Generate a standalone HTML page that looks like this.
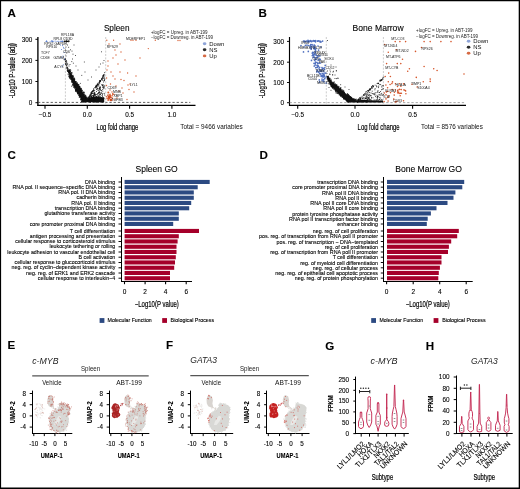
<!DOCTYPE html>
<html><head><meta charset="utf-8"><style>
html,body{margin:0;padding:0;background:#fff;}
body{width:520px;height:489px;overflow:hidden;position:relative;}
svg{position:absolute;left:0;top:0;will-change:transform;filter:blur(0.3px);}
text{font-family:"Liberation Sans",sans-serif;stroke:#000;stroke-width:0.1px;}
.n{stroke:none;}
.m{stroke:#000;stroke-width:0.2px;}
</style></head><body>
<svg width="520" height="489" viewBox="0 0 520 489">
<rect x="0" y="0" width="520" height="489" fill="#fff"/>
<text x="7.4" y="17.2" font-size="11.6" font-weight="bold">A</text>
<text x="258.4" y="17.2" font-size="11.6" font-weight="bold">B</text>
<text x="7.4" y="158.6" font-size="11.6" font-weight="bold">C</text>
<text x="259.5" y="158.6" font-size="11.6" font-weight="bold">D</text>
<text x="7.6" y="349.2" font-size="11.6" font-weight="bold">E</text>
<text x="166" y="349.2" font-size="11.6" font-weight="bold">F</text>
<text x="325.2" y="350.3" font-size="11.6" font-weight="bold">G</text>
<text x="425.8" y="350.2" font-size="11.6" font-weight="bold">H</text>
<line x1="37.9" y1="37" x2="37.9" y2="106" stroke="#000" stroke-width="1.35"/>
<line x1="37.4" y1="105.4" x2="195.5" y2="105.4" stroke="#000" stroke-width="1.15"/>
<line x1="35.4" y1="39.3" x2="38" y2="39.3" stroke="#000" stroke-width="0.95"/>
<text x="32.4" y="41.6" font-size="6.4" text-anchor="end">300</text>
<line x1="35.4" y1="60.4" x2="38" y2="60.4" stroke="#000" stroke-width="0.95"/>
<text x="32.4" y="62.7" font-size="6.4" text-anchor="end">200</text>
<line x1="35.4" y1="81.5" x2="38" y2="81.5" stroke="#000" stroke-width="0.95"/>
<text x="32.4" y="83.8" font-size="6.4" text-anchor="end">100</text>
<line x1="35.4" y1="102.7" x2="38" y2="102.7" stroke="#000" stroke-width="0.95"/>
<text x="32.4" y="105" font-size="6.4" text-anchor="end">0</text>
<line x1="45" y1="105.4" x2="45" y2="108.8" stroke="#000" stroke-width="1.1"/>
<text x="45" y="117.3" font-size="6.4" text-anchor="middle">−0.5</text>
<line x1="87.3" y1="105.4" x2="87.3" y2="108.8" stroke="#000" stroke-width="1.1"/>
<text x="87.3" y="117.3" font-size="6.4" text-anchor="middle">0.0</text>
<line x1="129.6" y1="105.4" x2="129.6" y2="108.8" stroke="#000" stroke-width="1.1"/>
<text x="129.6" y="117.3" font-size="6.4" text-anchor="middle">0.5</text>
<line x1="171.9" y1="105.4" x2="171.9" y2="108.8" stroke="#000" stroke-width="1.1"/>
<text x="171.9" y="117.3" font-size="6.4" text-anchor="middle">1.0</text>
<text x="103.9" y="31.2" font-size="8.4" textLength="25.6" lengthAdjust="spacingAndGlyphs">Spleen</text>
<text x="96.4" y="129.7" font-size="8.8" class="m" textLength="42" lengthAdjust="spacingAndGlyphs">Log fold change</text>
<text x="180.2" y="128.7" font-size="6.8" class="n" fill="#111" textLength="62.5" lengthAdjust="spacingAndGlyphs">Total = 9466 variables</text>
<text x="14.8" y="98.3" font-size="8.6" class="m" textLength="55.2" lengthAdjust="spacingAndGlyphs" transform="rotate(-90 14.8 98.3)">-Log10 P-value (adj)</text>
<text x="150.9" y="33.5" font-size="4.5" class="n" fill="#222" textLength="56.5" lengthAdjust="spacingAndGlyphs">+logFC = Upreg. in ABT-199</text>
<text x="150.9" y="39" font-size="4.5" class="n" fill="#222" textLength="62" lengthAdjust="spacingAndGlyphs">−logFC = Downreg. in ABT-199</text>
<ellipse cx="204.6" cy="43.8" rx="1.8" ry="1.45" fill="#8ea4d8"/>
<text x="209.2" y="45.8" font-size="5.9" class="n" fill="#111">Down</text>
<ellipse cx="204.6" cy="49.8" rx="1.8" ry="1.45" fill="#2a2a2a"/>
<text x="209.2" y="51.8" font-size="5.9" class="n" fill="#111">NS</text>
<ellipse cx="204.6" cy="55.9" rx="1.8" ry="1.45" fill="#d66a44"/>
<text x="209.2" y="57.9" font-size="5.9" class="n" fill="#111">Up</text>
<line x1="289.5" y1="37" x2="289.5" y2="106" stroke="#000" stroke-width="1.15"/>
<line x1="289" y1="105.4" x2="466" y2="105.4" stroke="#000" stroke-width="1.15"/>
<line x1="287" y1="41.4" x2="289.6" y2="41.4" stroke="#000" stroke-width="0.95"/>
<text x="284" y="43.7" font-size="6.4" text-anchor="end">300</text>
<line x1="287" y1="62.2" x2="289.6" y2="62.2" stroke="#000" stroke-width="0.95"/>
<text x="284" y="64.5" font-size="6.4" text-anchor="end">200</text>
<line x1="287" y1="82.5" x2="289.6" y2="82.5" stroke="#000" stroke-width="0.95"/>
<text x="284" y="84.8" font-size="6.4" text-anchor="end">100</text>
<line x1="287" y1="102.7" x2="289.6" y2="102.7" stroke="#000" stroke-width="0.95"/>
<text x="284" y="105" font-size="6.4" text-anchor="end">0</text>
<line x1="297.7" y1="105.4" x2="297.7" y2="108.8" stroke="#000" stroke-width="1.1"/>
<text x="297.7" y="117.3" font-size="6.4" text-anchor="middle">−0.5</text>
<line x1="355" y1="105.4" x2="355" y2="108.8" stroke="#000" stroke-width="1.1"/>
<text x="355" y="117.3" font-size="6.4" text-anchor="middle">0.0</text>
<line x1="412.6" y1="105.4" x2="412.6" y2="108.8" stroke="#000" stroke-width="1.1"/>
<text x="412.6" y="117.3" font-size="6.4" text-anchor="middle">0.5</text>
<text x="352.6" y="31.2" font-size="8.4" textLength="51" lengthAdjust="spacingAndGlyphs">Bone Marrow</text>
<text x="357.6" y="129.7" font-size="8.8" class="m" textLength="42" lengthAdjust="spacingAndGlyphs">Log fold change</text>
<text x="421" y="128.7" font-size="6.8" class="n" fill="#111" textLength="61.8" lengthAdjust="spacingAndGlyphs">Total = 8576 variables</text>
<text x="265.5" y="98.3" font-size="8.6" class="m" textLength="55.2" lengthAdjust="spacingAndGlyphs" transform="rotate(-90 265.5 98.3)">-Log10 P-value (adj)</text>
<text x="416.1" y="32" font-size="4.5" class="n" fill="#222" textLength="56.5" lengthAdjust="spacingAndGlyphs">+logFC = Upreg. in ABT-199</text>
<text x="416.1" y="37.5" font-size="4.5" class="n" fill="#222" textLength="62" lengthAdjust="spacingAndGlyphs">−logFC = Downreg. in ABT-199</text>
<ellipse cx="468.6" cy="41.2" rx="1.8" ry="1.45" fill="#8ea4d8"/>
<text x="473.2" y="43.2" font-size="5.9" class="n" fill="#111">Down</text>
<ellipse cx="468.6" cy="47.2" rx="1.8" ry="1.45" fill="#2a2a2a"/>
<text x="473.2" y="49.2" font-size="5.9" class="n" fill="#111">NS</text>
<ellipse cx="468.6" cy="53.3" rx="1.8" ry="1.45" fill="#d66a44"/>
<text x="473.2" y="55.3" font-size="5.9" class="n" fill="#111">Up</text>
<line x1="38" y1="102.4" x2="190.3" y2="102.4" stroke="#444" stroke-width="0.85" stroke-dasharray="2.3 1.9"/>
<line x1="65.4" y1="37" x2="65.4" y2="105" stroke="#aaa" stroke-width="0.6" stroke-dasharray="2 1.4"/>
<line x1="105.7" y1="37" x2="105.7" y2="105" stroke="#aaa" stroke-width="0.6" stroke-dasharray="2 1.4"/>
<line x1="289.6" y1="102.6" x2="466" y2="102.6" stroke="#999" stroke-width="0.85" stroke-dasharray="2.3 1.9"/>
<line x1="326.3" y1="37" x2="326.3" y2="105" stroke="#aaa" stroke-width="0.6" stroke-dasharray="2 1.4"/>
<line x1="383.4" y1="37" x2="383.4" y2="105" stroke="#aaa" stroke-width="0.6" stroke-dasharray="2 1.4"/>
<path d="M67.6 70.2L70 76.8L72.8 83.4L76.1 90L79.4 95.6L81.8 100.3L82.7 102.3L104.2 102.3L104.2 97.6L101 97.2L97 96.8L92 97L89.5 97.6L87.9 99.4L86.9 98.5L83.6 93.7L79.9 88.1L76.1 82.5L72.3 75.9L69.5 70.2Z" fill="#111"/>
<path d="M72.6 84.7h0M73.2 85.5h0M69.1 76.3h0M79.8 95.9h0M69 72.5h0M69.4 71.5h0M76.7 91.2h0M67.6 70.7h0M69.9 76.7h0M72.9 85.8h0M74.3 86.8h0M76.7 91.8h0M83.6 102.2h0M77.8 93.4h0M72 80.2h0M73.1 83h0M82.1 100.9h0M70.6 76.9h0M82.3 101.8h0M76.6 90.3h0M68 74.2h0M79.1 94.9h0M69.7 73.9h0M69.3 75.9h0M69.9 76.3h0M77.2 91.5h0M70 78.6h0M79.3 97h0M69.4 77.8h0M77.9 92h0M70.2 78.2h0M71.8 81.3h0M68.4 73h0M75.6 90.2h0M81.5 101h0M80.8 98.3h0M81.5 99h0M69.8 75.4h0M71 76.4h0M75.8 90h0M68.4 71.4h0M77.8 93.9h0M75.9 90h0M78.5 93.6h0M75.8 87.9h0M71.4 79.3h0M67.7 71.3h0M68.5 72.6h0M75.9 89.2h0M81.8 98.7h0M77.4 92.4h0M69.1 71.5h0M77.9 92.9h0M75.8 91h0M71.9 80.8h0M75 87h0M78.2 93.1h0M81 100.2h0M81.6 98.7h0M79.8 95.1h0M75.9 91h0M76.8 90.4h0M83.2 101.5h0M72.6 82.4h0M73.6 84.5h0M79.4 94.5h0M74.2 86.8h0M73.5 85.8h0M71.2 78.7h0M77.5 92.5h0M81 98.8h0M80.7 99.5h0M69.2 77.2h0M81.8 99.2h0M75.6 89.5h0M74.8 85.7h0M78.4 93.1h0M69.3 76h0M69.6 77.7h0M73.9 87.3h0M82.2 101.8h0M68.1 71.1h0M77.5 92.9h0M79.7 95.7h0M74.6 85.3h0M70.7 78.2h0M75.8 90.9h0M77.4 90.3h0M77.7 92.9h0M70.3 76.2h0M78.2 93.6h0M71.9 81.1h0M76.3 89.7h0M79.6 95.5h0M81.7 99.9h0M72.9 84.3h0M71.6 82.2h0M80 95.6h0M77.1 92.1h0M79.4 95.9h0M71.4 76.5h0M81.5 101.4h0M72.5 80.3h0M72.6 82h0M75.3 87.6h0M68 71h0M79.8 96.3h0M79.5 95.8h0M74.5 86.2h0M78.1 92.3h0M82.3 100.8h0M74.6 88.2h0M75.7 90.8h0M75.2 89h0M80.6 97.2h0M81 97.4h0M75.7 89.5h0M74.4 86.6h0M81.8 101.3h0M79 95.7h0M78.2 92.8h0M74.1 83.6h0M70.7 79.2h0M73.8 83.5h0M73.9 86.2h0M76.5 90.2h0M79.5 95.3h0M70.2 77.4h0M72 81.8h0M78.8 94.2h0M70.9 79.1h0M73 85h0M75 87.8h0M76.1 90.3h0M79.6 96.9h0M70.4 77h0M81 99.6h0M81.9 101.6h0M81.2 99h0M78.2 93.9h0M79.3 97.4h0M68.5 74.8h0M68 71.5h0M81.6 99.4h0M74.5 86.2h0M77.6 92.6h0M69.5 73.9h0M74.4 87h0M70.1 77.3h0M82.8 101.9h0M68.9 72.1h0M78.7 95.3h0M74 87.4h0M67.5 69.7h0M69 76.5h0M73 83.9h0M75.7 87.1h0M79.3 95h0M75.9 91.1h0M75.4 86.6h0M83.8 92.4h0M73.3 76.7h0M71.7 72.9h0M73.3 77h0M74.5 79.2h0M79.4 86.6h0M75.3 81.3h0M70.1 71.5h0M74.6 80.6h0M81.2 88.9h0M74.6 78.1h0M87.5 98.8h0M82.9 93h0M84.1 94.9h0M83.8 92.7h0M78.8 85.3h0M68.9 69.6h0M85.9 97.7h0M87.8 98.8h0M79.1 87.1h0M77.3 82.9h0M79.1 87.9h0M80.8 90.4h0M76.9 84.8h0M82.7 91.8h0M88.1 99.8h0M81.2 88.4h0M88.7 98.7h0M87.2 98h0M79.1 86.3h0M78.6 84.7h0M79.9 86.5h0M76.8 83.1h0M79.2 87.2h0M78.1 85.3h0M74.6 80.8h0M75.8 83.7h0M79 84.8h0M73.9 78.9h0M71.4 72.9h0M80.9 90.7h0M76.3 83.3h0M73.7 78.4h0M70.8 70.3h0M88.1 99.2h0M79.6 87.7h0M77.6 84.6h0M74.1 80.1h0M80.4 89.5h0M81.3 89.3h0M87.5 98.9h0M75.9 81.6h0M79.7 88.9h0M79.9 88.2h0M80.9 90.6h0M70.3 73h0M86.4 97.4h0M86 97.8h0M74.4 81h0M86.9 99h0M86.3 98.9h0M74.5 80.1h0M81 89.4h0M85.7 96.3h0M71.9 72.4h0M79.7 87.1h0M80.8 91.8h0M71.2 74.1h0M80.6 90.1h0M80.7 89.7h0M71.7 76.4h0M77.4 84.7h0M71.3 74.1h0M77.3 85h0M69.4 70.5h0M86 98.3h0M87.3 98.4h0M71.8 73.8h0M85.3 95.4h0M83.5 94.2h0M77.9 84.5h0M82.3 90.3h0M77.5 85.7h0M74.8 79.1h0M71.7 74.8h0M73.2 75.4h0M69.7 71h0M74.5 78.8h0M80.4 88.7h0M69.4 70.7h0M83.7 94.7h0M70.4 71.3h0M85.4 96.3h0M85.2 95.4h0M76.7 83.1h0M86.2 97.6h0M83.3 92.8h0M83.9 94.3h0M84.8 94.9h0M77.6 83.7h0M83.9 92h0M80.1 90h0M78.6 86.4h0M70.5 71.4h0M77.3 84.8h0M69.4 70.2h0M88 99.8h0M72.6 75.9h0M85.3 96.2h0M83.5 92.3h0M76 81.6h0M78.1 85.4h0M89.2 98.9h0M72.7 76.1h0M74.7 79.5h0M79.6 86.4h0M71.4 75.7h0M80.1 88h0M72.4 76.4h0M78.3 85.8h0M81.9 91.5h0M81.3 91.6h0M80.9 89.6h0M79 89.2h0M72.1 75.6h0M80.6 88.9h0M76.9 83.8h0M69.7 70.1h0M75.8 82.8h0M77.3 85h0M80.2 88.5h0M84.1 94.1h0M69.5 71.6h0M81.7 90.5h0M86.1 96.8h0M74.6 79.9h0M71.9 75.3h0M83.8 94h0M81.2 89h0M78.9 87.8h0M73.5 77.1h0M81.5 90.7h0M79.8 87.1h0M72.5 76.3h0M88 99.9h0M75.8 81.5h0M78.3 84.4h0M76.6 83.2h0M70.5 73.1h0M78.8 86.3h0M68.8 70.5h0M72.5 76.7h0M75.8 82.1h0M82.6 92.9h0M82.1 90.5h0M80.1 87.8h0M86.1 96.1h0M76.6 83.7h0M71.9 73h0M77 83.4h0M92.8 91.2h0M97.7 84h0M97.3 84.9h0M91.6 94.1h0M99.1 82.7h0M100.5 80.6h0M102.1 78.6h0M96 87.2h0M97.8 84.7h0M91.9 91.9h0M99.4 82.7h0M90.6 95h0M95.4 87.1h0M99.9 80.9h0M96.8 86.4h0M102.4 77.4h0M97.9 84.2h0M96.1 85.8h0M93.7 90.8h0M103.2 75.5h0M100.9 80.4h0M89 97.2h0M96.3 86.1h0M99.7 81.3h0M92.7 91.1h0M89.5 96.4h0M99.6 81.7h0M102 79.1h0M97.6 84.3h0M102 79.2h0M104.2 74.6h0M92.7 91.2h0M103.4 75.8h0M93.7 89.6h0M88.2 97.7h0M97.2 85.7h0M96 87.1h0M103.8 75.2h0M102.2 78h0M91.4 93.6h0M91 93.4h0M103.2 76.6h0M100.3 81.3h0M102.8 76.6h0M100.4 81.2h0M88.9 97h0M100.4 81.2h0M91.4 92.2h0M93.7 88.7h0M98 84.1h0M103.5 75h0M99.7 83.2h0M94.9 87.5h0M88 97.3h0M92 92.2h0M92.5 91.2h0M92.2 91.6h0M103.3 76.1h0M95.7 86.7h0M103.4 75.2h0M97.1 84.4h0M99.3 81.8h0M96.7 85.5h0M96.9 85.5h0M101.7 79.6h0M91.1 93h0M101.7 78.8h0M96.2 86.8h0M96.8 86.2h0M99.7 80.6h0M90.8 94.2h0M95.9 86.3h0M92.2 91.9h0M103 75.6h0M101.7 79.1h0M93.3 90.9h0M98.2 83h0M98.4 84.2h0M90.6 94.6h0M100.2 80.9h0M88.3 97.3h0M91.5 93.2h0M96.2 85.3h0M89.6 95.2h0M88.2 98.4h0M89.8 95.3h0M95.1 88h0M104.6 72.7h0M91.6 93.3h0M91 92.8h0M94.4 94.8h0M104.3 93.4h0M89.1 99.3h0M99 84.9h0M94 99.1h0M102.4 94.2h0M102.8 91.2h0M94.8 100.5h0M94.6 99.9h0M92 96.8h0M91.5 98.9h0M91.1 96.2h0M92 97.9h0M93.5 96.7h0M104.5 95h0M102.4 85.1h0M94.7 90.4h0M99.6 91.3h0M92.9 91.4h0M91.4 96.5h0M94.8 101.4h0M100 89.1h0M94.3 92.2h0M103.6 87.8h0M100.8 97.5h0M103.1 77.8h0M93.7 95.8h0M89.8 101.6h0M93.7 100h0M96.9 87.3h0M94.8 93h0M89.2 97.7h0M98.1 85h0M93.5 96.4h0M97.3 88.7h0M99.9 89h0M100.2 96.7h0M90.9 96.5h0M93 99.6h0M95 94.9h0M102.4 85.7h0M93.2 95.7h0M92 93.2h0M88.9 100.6h0M97.6 99.6h0M104.2 85.4h0M99.3 101h0M92 99.8h0M99.2 101.5h0M102.5 85.8h0M98.7 86h0M95.4 94.8h0M89.5 99h0M93.8 97.1h0M93 93.6h0M95 96.1h0M91.2 99.9h0M92.4 93.5h0M94 96.1h0M90.9 99.4h0M99.8 94.8h0M99.8 82.8h0M94.8 94.8h0M89.5 99.1h0M89.4 99.7h0M97.9 94.2h0M93.7 94.2h0M88.9 99.2h0M102.9 93.4h0M92.7 99.3h0M91.5 98.2h0M98.4 101.5h0M94.3 97.7h0M103.7 97.4h0M98.6 96.4h0M95.1 95.3h0M92.9 100.7h0M102.7 89.4h0M103.1 78.5h0M90.7 99h0M93.5 95.7h0M104.2 80.8h0M91.6 96h0M99.5 88.8h0M88.5 100.3h0M94.8 93h0M96.4 97.7h0M97.3 97h0M97.5 99.9h0M104.1 86.5h0M94.1 101.1h0M93.5 99.5h0M99.7 97.2h0M104 98.5h0M91.1 99.6h0M96.4 96.5h0M94.4 94h0M100.6 94.1h0M92.3 95.5h0M93.7 93.1h0M96.8 89h0M89.5 96.7h0M90.1 100.5h0M90.3 98.9h0M100.9 92.9h0M91.1 101.3h0M102.5 80.2h0M92.6 97.9h0M101.3 90.7h0M100 88.7h0M100 90.3h0M93.9 99.8h0M102.1 99h0M97.6 93.6h0M99.9 96h0M101.9 98.6h0M90.5 98.2h0M99.3 88.8h0M91.5 93.4h0M97.9 101.4h0M104.1 80.4h0M99.6 92.4h0M98.7 92.5h0M103.5 102h0M89.3 100.8h0M90.4 95.4h0M93.1 99.8h0M104.5 79.3h0M93.8 90.4h0M97.2 94.9h0M94.5 94.3h0M101.4 99.4h0M93.1 96.4h0M98.4 98.7h0M104.3 87.8h0M99.7 94.7h0M101.4 84.8h0M91.3 95h0M103.5 85h0M96.4 89.4h0M93.7 90.4h0M97.6 88.4h0M98.6 90.3h0M92.2 97.9h0M94.4 93.7h0M89.3 96.9h0M102.9 87.4h0M89.8 97.4h0M96.3 102.2h0M91.8 101.2h0M96.3 94.5h0M101.5 90.7h0M89.4 99.9h0M99.1 96.3h0M93 101.7h0M102.4 102.1h0M95.6 100.3h0M100.2 86.8h0M88.9 98.1h0M90.4 95.8h0M94.3 99.7h0M93.5 97.4h0M88.7 98.6h0M103.9 75.5h0M97 99.7h0M101.3 97.5h0M94.9 100.1h0M101.8 98h0M104.4 78.8h0M103.8 88.7h0M99.9 88.8h0M103.1 77.8h0M97.8 90h0M94.8 94.9h0M99.1 99.3h0M94.4 98.4h0M94.2 94.1h0M103.1 87.4h0M90 98.3h0M100.4 87.5h0M100.5 94.4h0M99.5 87.5h0M90.2 96.6h0M94.1 96.1h0M88.7 100.1h0M95 94.1h0M97.1 101.6h0M91.8 101.3h0M93.7 99.8h0M90.2 102.1h0M95.4 101.8h0M92 97.3h0M99.9 87.1h0M92.9 99.3h0M103.8 86.6h0M91.5 97.3h0M104.4 80.4h0M98.7 92.2h0M98.9 88.7h0M98.4 100.6h0M102.3 95h0M96.6 96.5h0M90.3 101.3h0M99.6 93.1h0M99.2 92.6h0M94.7 93h0M98.2 95.8h0M96.8 86.7h0M98.6 93.5h0M98.1 96.2h0M103.5 82h0M96 102.1h0M100.4 89.8h0M100.4 102h0M95 100.8h0M90.5 102.1h0M96.4 91.5h0M102 95.6h0M103.6 98.7h0M101.3 93.2h0M104.5 77.1h0M102.5 96.6h0M92.5 100.6h0M95.8 96.5h0M102.4 84.9h0M93 99h0M89.7 99.9h0M101.2 92.9h0M92.4 100.6h0M102.3 97.9h0M67.8 64.2h0M65.1 60.1h0M64.1 59.6h0M68.1 68.7h0M66.7 62.1h0M69.8 70.2h0M64.5 59.5h0M67.7 68.1h0M67 63.4h0M65.5 61.5h0M66.8 65.1h0M65 58.9h0M66.5 60.7h0M66.7 66h0M67.9 69.4h0M65.8 63.2h0M64.8 59.3h0M67 68.7h0M67.2 64.1h0M67.4 67.7h0M66.2 61.1h0M67.5 68h0M67.2 70.4h0M66.7 65.6h0M66.1 64h0M67.9 71h0M67.2 67.1h0M65.7 59.3h0M65.6 64.3h0M67 68.2h0M65.4 59.1h0M65.3 63.3h0M66.3 67.6h0M69.1 70h0M66 64.5h0M65.5 61.1h0M70.4 69.8h0M66.7 62h0M67.6 41.5h0M66.4 41.4h0M66.1 41.3h0M69.1 41.3h0M65.1 41.3h0M66.1 41.5h0M67.9 41.5h0M67.4 41.5h0M67.2 41.4h0M68.2 41.2h0M67.8 41.4h0M66.4 41.3h0M64.1 41.8h0M68.7 40.9h0M64.1 41.2h0M66.8 41.6h0M64.6 41.5h0M66.6 41.2h0M64.6 41.3h0M64.5 41.3h0M66.7 41.3h0M65.3 41.8h0M66.2 41.6h0M66.3 41.5h0M66.9 40.9h0M64.5 41.5h0M68.4 41.8h0M66.7 41.9h0M66.1 41h0M69 41.1h0M68.7 47.3h0M70.5 49.8h0M72 51.1h0M73 54.2h0M72.6 59h0M71.8 61.6h0M75.5 55.5h0M74 45h0M84.3 62h0M101.6 51.8h0M73.3 63.2h0M81.8 75.4h0M80.3 83.4h0M71.4 86.2h0M84.6 92.8h0M66 47h0M65.5 50h0M66.8 53h0M66 56h0M67.5 45h0M85 72h0M88 80h0M91.5 77h0M96 70h0M99 67h0M100.5 64h0M103 63h0M104 60.5h0M78 70h0M76 66h0M69 66h0M70 64.5h0" stroke="#111" stroke-width="0.9" stroke-linecap="round" fill="none"/>
<path d="M52.9 41.5h0M60.2 41.3h0M58.7 41.3h0M55.1 41.1h0M46 41.5h0M62.9 41.5h0M57.1 41.4h0M53 41.2h0M46.9 41.3h0M62 41.4h0M51.4 40.9h0M61.5 41.3h0M62.5 41h0M61.8 41.2h0M52.6 41.1h0M50.1 41.8h0M52.1 41h0M52 41.4h0M53.2 41.2h0M60.5 41.3h0M46.6 40.9h0M52.7 41.2h0M62.6 45.6h0M63.5 47.2h0M61.5 49.5h0M64.2 52.5h0M63 56.1h0M61.8 57.6h0M64.5 59h0M63.3 64.8h0M62 66.5h0M64 48.5h0M60.5 45h0M47 41.5h0" stroke="#5a7fd0" stroke-width="1.1" stroke-linecap="round" fill="none"/>
<path d="M106.8 40.3h0M113.6 40.3h0M131 40.3h0M133 40.3h0M136 40.3h0M155.3 40.3h0M178 40.5h0M180 40.5h0M148.3 48.6h0M115 50h0M121 52h0M116 55h0M113 58h0M108 61h0M108 66h0M107 70h0M111 72h0M120 72h0M127.6 73h0M113 76h0M115 79h0M121 79.5h0M124 80.5h0M130 84h0M128 85h0M116 86h0M122 88h0M129 89.5h0M110 90h0M112 92h0M114 94.5h0M108 95h0M107 98.5h0M117 98h0M127 99.5h0M134 92h0M123 93h0M119 91h0M110.5 84h0M106.5 85.5h0M106.6 78h0M109 44h0M120 44h0M125 60h0M118 64h0M140 58h0M136 76h0M109.6 97.9h0M108.4 98.3h0M108.2 97.1h0M109.5 94.7h0M111.3 97.1h0M109.7 96.9h0M107.9 99h0M108.5 98.2h0M107.6 95.3h0M108.7 99.2h0M106.5 96.7h0M110.3 97.3h0M109.5 98.6h0M110 95h0M110.7 95.4h0M108.9 99.9h0M114 99.9h0M110.3 95.4h0M108.1 100.4h0M110.1 94.2h0M112.4 98.2h0M111.9 97.8h0M109.3 96.7h0M112.3 95.7h0M109.3 96.9h0M109.3 94.9h0" stroke="#d9643a" stroke-width="1.4" stroke-linecap="round" fill="none"/>
<circle cx="109.3" cy="97" r="1.7" fill="#cf4a20"/>
<circle cx="111" cy="100" r="1.3" fill="#cf4a20"/>
<circle cx="108.3" cy="92.5" r="1.0" fill="#d65a2c"/>
<circle cx="112.8" cy="94" r="0.9" fill="#d65a2c"/>
<text x="61" y="36.3" font-size="3.5" class="n" fill="#222">RPL18A</text>
<text x="53.4" y="39.8" font-size="3.5" class="n" fill="#222">RPL8 CD3D</text>
<text x="44.3" y="44.5" font-size="3.5" class="n" fill="#222">RPS2 GAPDH</text>
<text x="46.2" y="48" font-size="3.5" class="n" fill="#222">RPS10</text>
<text x="40.9" y="53.7" font-size="3.5" class="n" fill="#222">TCF7</text>
<text x="40.4" y="58.6" font-size="3.5" class="n" fill="#222">CD6E</text>
<text x="63" y="52.5" font-size="3.5" class="n" fill="#222">CD6</text>
<text x="53.4" y="59.4" font-size="3.5" class="n" fill="#222">GZMM</text>
<text x="54.3" y="67.8" font-size="3.5" class="n" fill="#222">ACY3</text>
<text x="106.8" y="48" font-size="3.5" class="n" fill="#222">RPS29</text>
<text x="126" y="40.2" font-size="3.5" class="n" fill="#222">MDERPEP1</text>
<text x="107.5" y="88.8" font-size="3.5" class="n" fill="#222">CD69</text>
<text x="113" y="93.4" font-size="3.5" class="n" fill="#222">MNB</text>
<text x="113.5" y="97.3" font-size="3.5" class="n" fill="#222">XBP1</text>
<text x="111.5" y="101.2" font-size="3.5" class="n" fill="#222">TGFB3</text>
<text x="129.8" y="86.2" font-size="3.5" class="n" fill="#222">LYL1</text>
<path d="M326.8 76.2L328.8 81L331.6 85.9L335.1 90L339.2 94.2L344.1 98.3L348.2 101.8L349.6 102.5L383 102.5L383 100.6L376 100.4L370 100.2L364 99.8L360.2 100.2L357.4 101.2L354.5 99.4L350.3 96.9L345.5 93.5L340.6 89.3L335.8 85.2L331.6 81.7L328.2 76.2Z" fill="#111"/>
<path d="M341.7 95.4h0M327.9 78.2h0M342.3 97.5h0M334.9 89.7h0M342.4 96.8h0M344.6 98.5h0M328.6 80.2h0M347.2 101.4h0M329.5 83.3h0M345.7 99.8h0M335.9 90.5h0M332.8 86.9h0M335.8 90.5h0M344 98.2h0M328.9 81.5h0M332.7 87.3h0M338 93.3h0M338.2 92.6h0M337 93.3h0M332 86.2h0M330.7 83.9h0M331.5 84.7h0M333.1 87.4h0M337.9 93.6h0M346.5 100.9h0M330.3 83.4h0M331.7 85.8h0M340.7 95.7h0M332.9 87.5h0M343.1 97.2h0M343.6 98.1h0M336.8 91.8h0M342.2 96.9h0M347.2 100.7h0M348 101.3h0M345.5 99.2h0M331.2 84.2h0M330.6 84.6h0M328.2 80.5h0M331.1 85.8h0M346.5 100.7h0M345 99.1h0M341.6 96.6h0M347.3 100.6h0M327.9 77.8h0M343.7 98.4h0M332.9 86.6h0M335.9 91h0M330.5 83.6h0M347.7 101.3h0M347.2 100.9h0M328.8 80.1h0M346.6 100.1h0M328.3 78.5h0M348.7 101.4h0M343.4 97.8h0M337 92.3h0M332.4 87.2h0M341 96.3h0M327.3 78.8h0M348.5 102h0M331.1 86.3h0M348.8 101.2h0M348 100.3h0M340.4 95.2h0M348.1 101.6h0M348.5 101.9h0M346 99.8h0M327.6 76.6h0M336 91.2h0M344.4 98.4h0M344.7 98h0M333.7 89h0M327 76.3h0M337.9 93.2h0M340.3 95.5h0M346.3 100.3h0M329.9 84.4h0M332.3 87.3h0M330.5 84.4h0M346.2 100.3h0M331.2 86.4h0M340.7 94.8h0M327.9 78.4h0M328.9 83.9h0M332.5 88.4h0M343.8 97.6h0M343.5 98.3h0M338.4 92.9h0M345 98.7h0M334.2 88.3h0M329 81.8h0M348.7 101.7h0M348 101.8h0M348 101.8h0M341.2 95h0M347.6 101.8h0M328.3 81.2h0M327.9 78.9h0M327.4 78.1h0M327.9 80.1h0M337.9 92.2h0M348.2 101.8h0M327.6 79.4h0M347.1 101.1h0M331.8 86.4h0M344.3 98h0M339 93.3h0M330.7 81.9h0M327.2 76.5h0M327.7 78.1h0M342.3 96.9h0M330.2 82.7h0M339.7 94.9h0M327 76.8h0M330.5 84.2h0M335.2 90.1h0M333.2 86.9h0M333.7 88.8h0M332.5 86.4h0M348.2 100.6h0M327.8 81.4h0M331.6 86h0M330.1 83.6h0M347.9 101.8h0M340.6 96.1h0M336.6 90.7h0M333.8 87.9h0M330.4 84.5h0M335.7 90.4h0M334.9 89.7h0M331 85.2h0M344.1 99.1h0M343.9 99.1h0M335.7 91.4h0M347.4 101.6h0M331.6 85h0M332.5 87.2h0M345.3 97.8h0M346.8 100.2h0M341.9 95.5h0M329.5 81.6h0M330.6 84h0M336 92h0M339.8 93.3h0M340.4 94.9h0M329.2 79.7h0M332 86.7h0M343.5 97.2h0M328.5 80.1h0M345.9 99h0M345 99.5h0M339.2 94.6h0M333 87.2h0M344 98.8h0M343.1 97.1h0M331.8 86.5h0M339.4 93.8h0M333.1 86.1h0M331.9 85.2h0M348.5 101.5h0M330.6 85h0M327.6 76.9h0M335.5 90h0M329.4 82.5h0M332.2 86.5h0M331.7 87h0M339.2 94.8h0M348 96.4h0M352.3 98.8h0M333 83.2h0M329.8 78h0M340.7 88.9h0M350.8 97h0M351.6 97.8h0M334.8 84h0M333 82.7h0M342.4 91.1h0M343 90.2h0M355.5 99.8h0M335.4 85.2h0M342.7 91.4h0M343.7 91.7h0M338.7 87.2h0M353.3 98.5h0M357 100.4h0M343.2 91.5h0M330.5 81.1h0M347 94.4h0M347.3 95.6h0M340.6 90h0M330.4 80.8h0M334.8 84.9h0M342.7 91.6h0M337.3 87h0M332.8 83.3h0M330.2 80.3h0M331.1 79.4h0M343.8 91.6h0M347.2 93.6h0M336.5 85.6h0M337 86.9h0M340.6 88.9h0M335.6 84.7h0M333.5 84h0M348.4 97.4h0M350.6 96.9h0M339.3 87h0M343.8 92.2h0M333.6 82.8h0M348.6 95.2h0M340.3 88.8h0M332.7 83.7h0M329.1 78.5h0M340.2 89.2h0M338.2 86.3h0M347.8 94.5h0M351.8 97.7h0M341.1 89.1h0M328.6 78.4h0M354.3 100.1h0M336 84.7h0M347.7 95.8h0M355.8 100.6h0M351.7 98.9h0M329.5 78.7h0M353.9 99h0M334.3 84.5h0M336.5 85.2h0M331.2 81.5h0M335 85.8h0M349.4 96.6h0M343.2 90.8h0M338.5 87.2h0M349.5 96.3h0M328.6 77.8h0M343.8 90.6h0M336.4 85.9h0M335.5 85.8h0M330.8 80.8h0M349.4 96.2h0M336.5 85.4h0M339.9 88.7h0M354.7 101h0M338.5 87.3h0M354.4 99h0M351.1 98.1h0M335.4 85.5h0M347.2 94.8h0M345.4 93.8h0M348.9 95.6h0M338.6 87.9h0M330.7 81.3h0M347.5 93.9h0M337.3 86.2h0M340.9 90.2h0M340.6 89.9h0M340.6 88.1h0M350 96.5h0M356.3 99.3h0M348.1 96h0M331.2 80.8h0M333.7 84h0M340.9 87.5h0M330 78.7h0M349.5 95.8h0M340.5 90.5h0M341 89.5h0M328.6 76.4h0M344.4 92.5h0M340 88.1h0M333.1 83h0M350.2 97.7h0M336.3 86.1h0M339.7 89.4h0M337.8 86.7h0M336.8 86.2h0M333 84.5h0M340.2 88.9h0M348.7 94.8h0M333.9 83.5h0M332.8 82.8h0M356.4 100.5h0M328.9 77.9h0M332 82.4h0M338.1 87h0M338.8 89h0M348.7 95.5h0M341.8 90h0M348.6 94.8h0M355 99.9h0M348 94.3h0M328.3 76.2h0M344.6 92.3h0M354.6 99.6h0M340.5 89.2h0M328.2 77.1h0M351.2 97.4h0M350.4 97.3h0M333.2 83.2h0M350.7 97h0M331.2 80.7h0M342.6 90.1h0M334.2 83h0M355.5 99.5h0M351.7 97.7h0M330.5 80.4h0M355.9 99.2h0M330.1 79h0M347.8 95.3h0M350.2 96.7h0M350.9 97.5h0M351.5 97.7h0M344.4 92.7h0M338.1 87.5h0M357.4 99.8h0M343.3 92.3h0M352 98.8h0M366.7 91.4h0M358.1 100.4h0M377.4 83.3h0M381.9 80.1h0M380 81.4h0M383 77.4h0M365.8 91.9h0M380.3 80h0M383.8 77.2h0M382.8 79.1h0M372.4 88.1h0M358.4 99.3h0M365.4 93.2h0M369.6 89.5h0M363.5 95.2h0M362.1 96.3h0M371.7 87.8h0M357.5 101.1h0M364.9 94.5h0M358.7 99.2h0M369.6 88.8h0M381.7 79.6h0M367.3 92.3h0M369.2 89.9h0M378.6 83.3h0M373.4 86.5h0M368.3 91.9h0M371.6 86.5h0M358.6 99.7h0M369.4 89.6h0M371.7 87.7h0M359.9 98.2h0M363.3 95.6h0M358.5 99.5h0M373.1 86.4h0M359.8 97.5h0M380.3 80.6h0M379.8 80.4h0M364.7 93.7h0M369.9 90h0M363.6 94.5h0M370.7 89h0M372.5 85.5h0M378.5 83.6h0M370.5 88.6h0M381.2 79.8h0M368.7 90.9h0M358.1 100h0M375.1 85.2h0M367.7 90.7h0M368.7 90.9h0M380.9 80.7h0M380.6 80.7h0M361 97.3h0M358.6 99.2h0M368.7 90.4h0M381.9 79.6h0M378.3 83.5h0M373.4 85.8h0M378.6 83.3h0M372.6 86.8h0M381.7 80.5h0M359.8 98.8h0M373.1 87h0M381.3 80.1h0M370.6 89.5h0M382.5 78.8h0M371.4 88.1h0M377.1 83.6h0M368 90.5h0M369.6 92.6h0M360 99.4h0M379 94.7h0M374.3 93.9h0M367.1 95.2h0M382.8 95.2h0M360.8 101.2h0M373 97.8h0M377.5 96.9h0M380.3 101.9h0M368.1 99.4h0M367.2 97.5h0M367 99.6h0M366.7 97.2h0M379.5 99.4h0M375.1 100.4h0M367.5 99.5h0M364 98.1h0M360.1 101.7h0M381.5 89.7h0M367.3 94.2h0M361.2 100.9h0M380.7 84.6h0M364.1 101h0M363.4 101.7h0M366.7 98.3h0M362.7 98.5h0M368.5 95.5h0M376.5 85.9h0M374.1 99.9h0M366 96h0M360.6 98.4h0M378.1 96.7h0M357.9 101.5h0M373.1 93.7h0M358.4 101.2h0M366.7 102.1h0M366.9 101.8h0M380.1 95.6h0M360.8 101.6h0M359.8 101h0M360 99h0M368.2 94.2h0M383.3 94.5h0M380.8 101.6h0M377.2 97.5h0M369.8 100.2h0M374.9 89.8h0M371.3 95.8h0M370.9 99.4h0M375.4 96.6h0M378 99.9h0M359.9 99.3h0M358.7 100.3h0M382.4 89.2h0M368.9 97.4h0M372.2 93.5h0M377.7 92.3h0M379.5 99.4h0M357.5 101.7h0M359.9 102h0M359.3 100.2h0M377.5 96.6h0M374.8 94.4h0M371 92.9h0M369.5 94.7h0M375.1 88.6h0M361.1 98.9h0M371.4 97.8h0M357.6 102.3h0M379.2 92.6h0M361.6 101.6h0M382.9 85.5h0M377.2 99.9h0M381.9 87.1h0M360.6 98.9h0M363.5 101.8h0M381.2 93.4h0M360.8 99.8h0M363.8 100.4h0M376.2 99.4h0M368.9 97.3h0M369.7 96h0M369.3 99.4h0M376 92.6h0M372.2 91.2h0M358.7 101h0M366.8 93.3h0M359.6 100.7h0M382 99.6h0M358.3 101h0M367.1 96.6h0M361.1 100.7h0M379.3 92.5h0M362.1 97.6h0M357.9 102h0M363.5 100.9h0M378.1 86.8h0M362.4 98.9h0M377.5 98.7h0M365.4 98.6h0M366.7 98.3h0M378.1 90.8h0M378.6 101.2h0M373.1 101.8h0M381.9 86.1h0M383.3 85.9h0M378.4 87.6h0M365.4 98.5h0M379.3 97.6h0M362.8 101.8h0M380 94.5h0M358.8 100.6h0M365.1 98.4h0M382 95.3h0M378.8 86h0M363.9 100.8h0M366.4 96.1h0M359.1 99.5h0M368.2 98.4h0M367.9 98.7h0M365.1 94.3h0M375 93.1h0M370.3 95.8h0M364.5 95.3h0M365.2 97.4h0M360.5 98.1h0M370 90.2h0M380.4 91.5h0M369 98h0M358.1 100.5h0M377.9 96h0M370.3 95.3h0M377 95.3h0M378.1 100.1h0M380.7 98h0M375 95.1h0M371.4 97.8h0M371.2 100.5h0M379.8 84.4h0M377.1 97h0M373.1 101.3h0M358.8 101.1h0M367.3 101.9h0M361.8 100.4h0M361.3 101.4h0M370.2 99.8h0M365.5 101.6h0M357.7 101.1h0M376.6 100.7h0M377.7 91.2h0M359.6 101.5h0M376.5 86.8h0M381.8 94.1h0M358.4 101.3h0M366.3 94.8h0M380.5 101.3h0M360.7 100.2h0M364.6 100.3h0M360.4 99.9h0M368.2 97.7h0M368.8 98.7h0M381.9 101.2h0M381.1 99.6h0M363.4 97.9h0M369.5 99h0M373.3 94.1h0M383.3 88.7h0M358 100.6h0M362.9 101h0M336.3 70.8h0M330 74.4h0M335.8 86.2h0M330.3 71.8h0M337.7 87.5h0M335 78.5h0M335.3 83.8h0M332.8 74.9h0M333 81.9h0M330.9 81.5h0M329 87.5h0M329.7 74.1h0M337.6 87.1h0M337.2 85.1h0M336.4 84.8h0M333.5 71.3h0M335.2 85h0M336.3 70.8h0M328.1 83.2h0M332.6 86.1h0M337.9 78h0M334.6 82h0M330 70h0M333 72h0M335 75h0M338 78.5h0M331 65h0M336 67h0M345 87h0M349 89.5h0M327.5 40.5h0M332.5 74.8h0M336.4 78.6h0M340.7 84.7h0M331 90.3h0M336 93h0M326.9 73.5h0M327.5 71h0" stroke="#111" stroke-width="0.9" stroke-linecap="round" fill="none"/>
<path d="M317.2 70.2h0M314.2 45.2h0M319.7 73.6h0M314.6 57.8h0M313.9 47.6h0M313.3 52.7h0M313.6 55.2h0M324 68.5h0M317.8 63.6h0M314 56.1h0M322.5 68.3h0M321.4 76.5h0M325.6 73.1h0M323.9 81.6h0M315.2 63.6h0M318.1 65.6h0M316.8 71.9h0M320.5 63h0M319.4 82.2h0M317.2 57.3h0M316.9 55.5h0M313.1 52.3h0M312.9 54.3h0M314.2 66.1h0M315.9 55h0M317.1 62.5h0M315.4 53.1h0M314.6 60.5h0M319.1 62.9h0M315.2 51.1h0M315.7 67.7h0M321.5 71.1h0M324.3 67.8h0M322.5 73.7h0M317.4 65.6h0M322.1 80.5h0M323.5 81.5h0M319 68.8h0M312.2 53.1h0M325.2 65.4h0M324.3 76.7h0M324.3 75.2h0M315.9 48.5h0M311.1 46.5h0M310.7 44.6h0M323.8 75.6h0M319.5 59.4h0M305.4 45.3h0M322.1 69.6h0M317.7 71.1h0M315.3 65h0M312.3 55.5h0M314.8 54.2h0M318.6 50.1h0M323.6 71.1h0M311.4 46.7h0M314 63.3h0M313.9 54.5h0M314.7 49h0M311.5 60.4h0M315.4 52.8h0M314.6 47.7h0M326 77.1h0M311.2 49.2h0M320.1 71h0M319.4 63.1h0M324.8 78.5h0M312.5 45h0M310.2 47.5h0M313 57.3h0M310.5 47.1h0M316.4 57.9h0M321.7 75.6h0M324.1 73h0M315.9 59.4h0M319.8 69.7h0M315.7 62h0M310.4 45.8h0M315 48.1h0M323.8 74.5h0M326.1 83.1h0M323.6 79.5h0M315.4 49.3h0M317 65.4h0M319.6 67.3h0M315.3 63h0M323 75.3h0M311.3 48.6h0M320.5 74.1h0M320.3 59.4h0M322.3 73.7h0M318.2 56.1h0M318.2 60h0M319.8 55.9h0M324.6 69.5h0M312.8 52.4h0M322 67.7h0M311.1 48.5h0M318.2 60.3h0M321.2 71.5h0M315.2 59.6h0M318.8 72.3h0M311 48.8h0M313.8 48.6h0M313.3 46.8h0M321 75.9h0M315.2 51.4h0M318.3 66.6h0M308.3 51.4h0M322 79h0M308.6 45.5h0M323.8 79.8h0M314.9 45.7h0M322.6 76.5h0M317.8 65.9h0M323 77.1h0M317.2 67.4h0M315.7 50.9h0M319.3 79.9h0M314.8 41.2h0M308.8 41.9h0M304.5 41.9h0M307.3 41.4h0M304.2 41.2h0M318.6 40.9h0M308 40.4h0M320.2 42.1h0M320.4 41.9h0M322.6 41.1h0M315.7 40.8h0M310.3 41h0M314.5 41.2h0M321 41.9h0M317.8 41.2h0M310.1 41.3h0M311.6 41.6h0M313.4 40.7h0M315.3 40.5h0M314.3 41h0M314.2 41.2h0M311.7 41.5h0M303.5 41h0M306.3 41h0M309.1 41h0M311.9 41h0M313 41h0M314.2 41h0M317.5 41h0M322.6 41h0M303.5 51.9h0M318 46h0M321 47h0M305 41.5h0M308 42h0M310.5 40.5h0M315.5 41.8h0M320 41.2h0M307 45h0M312 44.5h0M301 45.5h0M304 47h0" stroke="#5272c0" stroke-width="1.7" stroke-linecap="round" fill="none"/>
<path d="M395.2 41.6h0M399.9 41.6h0M405.6 41.6h0M424.1 41.6h0M430.2 41.6h0M440.9 41.6h0M451 41.6h0M384.8 44.5h0M421.5 47.5h0M396.4 49.7h0M415.5 51.4h0M388.3 52.3h0M402.5 59.2h0M386.6 63.6h0M397.3 63.6h0M400.8 63.6h0M424.1 66.5h0M409.4 68.7h0M433.7 68.7h0M437.1 70.5h0M407.7 71.3h0M388.7 73.1h0M390.4 76.5h0M385.2 76.5h0M416.3 77.4h0M430.2 79.1h0M430.2 81.4h0M423.3 81.7h0M412 84.3h0M417.2 87h0M464 74h0M403.5 100.8h0M390.5 92.6h0M395.4 90h0M387.9 97.4h0M385.9 85h0M390.1 84.5h0M388.3 81.8h0M395.5 83.8h0M398.1 93.2h0M397.7 90.6h0M397.5 86.5h0M394.2 95.1h0M388.7 96.1h0M396.9 101.4h0M397.6 92.1h0M400.9 86.3h0M392.2 89.5h0M400.2 95.8h0M388.1 101h0M405.6 90.9h0M405.9 93.7h0M392.5 81.9h0M384.4 93h0M399.8 93.5h0M401.2 89.6h0M400.3 93.3h0M398 92.1h0M398.7 92.3h0M386 94.8h0M399.5 89.4h0M405.3 90.6h0M387.7 91.3h0M391.9 83.6h0M403.5 83.9h0M399.7 83.7h0M395.4 101.9h0M386 98.9h0M384.1 101.5h0M404 89.9h0M398 90.1h0M387.6 87.8h0M393.7 99.1h0M386.5 91.9h0M394.4 92.2h0M401.4 93.2h0" stroke="#d6572c" stroke-width="1.6" stroke-linecap="round" fill="none"/>
<text x="301.2" y="44" font-size="3.5" class="n" fill="#222">IRS4</text>
<text x="297.9" y="48.8" font-size="3.5" class="n" fill="#222">HMGB3 RPL39</text>
<text x="314.2" y="53.8" font-size="3.5" class="n" fill="#222">RPS4X</text>
<text x="316.4" y="55.6" font-size="3.5" class="n" fill="#222">GNG11</text>
<text x="312.5" y="59.8" font-size="3.5" class="n" fill="#222">CD9</text>
<text x="324.3" y="60" font-size="3.5" class="n" fill="#222">SOX4</text>
<text x="318.7" y="62.9" font-size="3.5" class="n" fill="#222">PAK</text>
<text x="325.4" y="69" font-size="3.5" class="n" fill="#222">CD52</text>
<text x="315.3" y="71.9" font-size="3.5" class="n" fill="#222">TUBB</text>
<text x="306.9" y="76.9" font-size="3.5" class="n" fill="#222">BCL11B</text>
<text x="308" y="80.3" font-size="3.5" class="n" fill="#222">CD44</text>
<text x="317" y="84.2" font-size="3.5" class="n" fill="#222">MKI67</text>
<text x="391.2" y="39.6" font-size="3.5" class="n" fill="#222">MT-CO3</text>
<text x="384.3" y="46.6" font-size="3.5" class="n" fill="#222">MT-ND4</text>
<text x="395.6" y="52.1" font-size="3.5" class="n" fill="#222">MT-ND2</text>
<text x="386" y="57.6" font-size="3.5" class="n" fill="#222">MT-ATP6</text>
<text x="385.2" y="68.5" font-size="3.5" class="n" fill="#222">MT-CYB</text>
<text x="421.5" y="50" font-size="3.5" class="n" fill="#222">RPS26</text>
<text x="395.6" y="86.4" font-size="3.5" class="n" fill="#222">HLA-A</text>
<text x="385.2" y="92.3" font-size="3.5" class="n" fill="#222">KLRB1</text>
<text x="383.5" y="98" font-size="3.5" class="n" fill="#222">IL32</text>
<text x="393" y="102" font-size="3.5" class="n" fill="#222">CD83</text>
<text x="411" y="84.6" font-size="3.5" class="n" fill="#222">TIMP1</text>
<text x="417.2" y="89.3" font-size="3.5" class="n" fill="#222">S100A4</text>
<line x1="121.5" y1="177" x2="121.5" y2="282" stroke="#000" stroke-width="1.0"/>
<line x1="121" y1="281.5" x2="192" y2="281.5" stroke="#000" stroke-width="1.0"/>
<rect x="124.6" y="179.9" width="85.1" height="4.1" fill="#2c4a82"/>
<line x1="118.5" y1="182" x2="121.5" y2="182" stroke="#000" stroke-width="0.95"/>
<text x="115.3" y="183.6" font-size="5.65" text-anchor="end" textLength="30.2" lengthAdjust="spacingAndGlyphs">DNA binding</text>
<rect x="124.6" y="185.2" width="73.1" height="4.1" fill="#2c4a82"/>
<line x1="118.5" y1="187.2" x2="121.5" y2="187.2" stroke="#000" stroke-width="0.95"/>
<text x="115.3" y="188.8" font-size="5.65" text-anchor="end" textLength="102.9" lengthAdjust="spacingAndGlyphs">RNA pol. II sequence−specific DNA binding</text>
<rect x="124.6" y="190.4" width="69.2" height="4.1" fill="#2c4a82"/>
<line x1="118.5" y1="192.5" x2="121.5" y2="192.5" stroke="#000" stroke-width="0.95"/>
<text x="115.3" y="194.1" font-size="5.65" text-anchor="end" textLength="57.0" lengthAdjust="spacingAndGlyphs">RNA pol. II DNA binding</text>
<rect x="124.6" y="195.7" width="69.2" height="4.1" fill="#2c4a82"/>
<line x1="118.5" y1="197.8" x2="121.5" y2="197.8" stroke="#000" stroke-width="0.95"/>
<text x="115.3" y="199.3" font-size="5.65" text-anchor="end" textLength="38.8" lengthAdjust="spacingAndGlyphs">cadherin binding</text>
<rect x="124.6" y="200.9" width="66.6" height="4.1" fill="#2c4a82"/>
<line x1="118.5" y1="203" x2="121.5" y2="203" stroke="#000" stroke-width="0.95"/>
<text x="115.3" y="204.6" font-size="5.65" text-anchor="end" textLength="44.0" lengthAdjust="spacingAndGlyphs">RNA pol. II binding</text>
<rect x="124.6" y="206.2" width="64.6" height="4.1" fill="#2c4a82"/>
<line x1="118.5" y1="208.2" x2="121.5" y2="208.2" stroke="#000" stroke-width="0.95"/>
<text x="115.3" y="209.8" font-size="5.65" text-anchor="end" textLength="60.5" lengthAdjust="spacingAndGlyphs">transcription DNA binding</text>
<rect x="124.6" y="211.4" width="54.2" height="4.1" fill="#2c4a82"/>
<line x1="118.5" y1="213.5" x2="121.5" y2="213.5" stroke="#000" stroke-width="0.95"/>
<text x="115.3" y="215.1" font-size="5.65" text-anchor="end" textLength="70.9" lengthAdjust="spacingAndGlyphs">glutathione transferase activity</text>
<rect x="124.6" y="216.7" width="54.2" height="4.1" fill="#2c4a82"/>
<line x1="118.5" y1="218.8" x2="121.5" y2="218.8" stroke="#000" stroke-width="0.95"/>
<text x="115.3" y="220.3" font-size="5.65" text-anchor="end" textLength="30.2" lengthAdjust="spacingAndGlyphs">actin binding</text>
<rect x="124.6" y="221.9" width="48.6" height="4.1" fill="#2c4a82"/>
<line x1="118.5" y1="224" x2="121.5" y2="224" stroke="#000" stroke-width="0.95"/>
<text x="115.3" y="225.6" font-size="5.65" text-anchor="end" textLength="85.6" lengthAdjust="spacingAndGlyphs">core promoter proximal DNA binding</text>
<rect x="124.6" y="228.9" width="74.4" height="4.1" fill="#a5002a"/>
<line x1="118.5" y1="231" x2="121.5" y2="231" stroke="#000" stroke-width="0.95"/>
<text x="115.3" y="232.6" font-size="5.65" text-anchor="end" textLength="45.5" lengthAdjust="spacingAndGlyphs">T cell differentiation</text>
<rect x="124.6" y="234.2" width="54.2" height="4.1" fill="#a5002a"/>
<line x1="118.5" y1="236.2" x2="121.5" y2="236.2" stroke="#000" stroke-width="0.95"/>
<text x="115.3" y="237.8" font-size="5.65" text-anchor="end" textLength="85.5" lengthAdjust="spacingAndGlyphs">antigen processing and presentation</text>
<rect x="124.6" y="239.4" width="53" height="4.1" fill="#a5002a"/>
<line x1="118.5" y1="241.5" x2="121.5" y2="241.5" stroke="#000" stroke-width="0.95"/>
<text x="115.3" y="243.1" font-size="5.65" text-anchor="end" textLength="100.0" lengthAdjust="spacingAndGlyphs">cellular response to corticosteroid stimulus</text>
<rect x="124.6" y="244.7" width="51.9" height="4.1" fill="#a5002a"/>
<line x1="118.5" y1="246.8" x2="121.5" y2="246.8" stroke="#000" stroke-width="0.95"/>
<text x="115.3" y="248.3" font-size="5.65" text-anchor="end" textLength="65.8" lengthAdjust="spacingAndGlyphs">leukocyte tethering or rolling</text>
<rect x="124.6" y="249.9" width="51.9" height="4.1" fill="#a5002a"/>
<line x1="118.5" y1="252" x2="121.5" y2="252" stroke="#000" stroke-width="0.95"/>
<text x="115.3" y="253.6" font-size="5.65" text-anchor="end" textLength="108.0" lengthAdjust="spacingAndGlyphs">leukocyte adhesion to vascular endothelial cell</text>
<rect x="124.6" y="255.2" width="51.2" height="4.1" fill="#a5002a"/>
<line x1="118.5" y1="257.2" x2="121.5" y2="257.2" stroke="#000" stroke-width="0.95"/>
<text x="115.3" y="258.9" font-size="5.65" text-anchor="end" textLength="36.8" lengthAdjust="spacingAndGlyphs">B cell activation</text>
<rect x="124.6" y="260.4" width="50.4" height="4.1" fill="#a5002a"/>
<line x1="118.5" y1="262.5" x2="121.5" y2="262.5" stroke="#000" stroke-width="0.95"/>
<text x="115.3" y="264.1" font-size="5.65" text-anchor="end" textLength="100.8" lengthAdjust="spacingAndGlyphs">cellular response to glucocorticoid stimulus</text>
<rect x="124.6" y="265.7" width="49.6" height="4.1" fill="#a5002a"/>
<line x1="118.5" y1="267.8" x2="121.5" y2="267.8" stroke="#000" stroke-width="0.95"/>
<text x="115.3" y="269.4" font-size="5.65" text-anchor="end" textLength="103.8" lengthAdjust="spacingAndGlyphs">neg. reg. of cyclin−dependent kinase activity</text>
<rect x="124.6" y="270.9" width="45.4" height="4.1" fill="#a5002a"/>
<line x1="118.5" y1="273" x2="121.5" y2="273" stroke="#000" stroke-width="0.95"/>
<text x="115.3" y="274.6" font-size="5.65" text-anchor="end" textLength="89.2" lengthAdjust="spacingAndGlyphs">neg. reg. of ERK1 and ERK2 cascade</text>
<rect x="124.6" y="276.2" width="45.4" height="4.1" fill="#a5002a"/>
<line x1="118.5" y1="278.2" x2="121.5" y2="278.2" stroke="#000" stroke-width="0.95"/>
<text x="115.3" y="279.9" font-size="5.65" text-anchor="end" textLength="77.5" lengthAdjust="spacingAndGlyphs">cellular response to interleukin−4</text>
<line x1="124.5" y1="281.2" x2="124.5" y2="284.2" stroke="#000" stroke-width="1.1"/>
<text x="124.5" y="294" font-size="6.5" text-anchor="middle">0</text>
<line x1="145.1" y1="281.2" x2="145.1" y2="284.2" stroke="#000" stroke-width="1.1"/>
<text x="145.1" y="294" font-size="6.5" text-anchor="middle">2</text>
<line x1="165.6" y1="281.2" x2="165.6" y2="284.2" stroke="#000" stroke-width="1.1"/>
<text x="165.6" y="294" font-size="6.5" text-anchor="middle">4</text>
<line x1="186.2" y1="281.2" x2="186.2" y2="284.2" stroke="#000" stroke-width="1.1"/>
<text x="186.2" y="294" font-size="6.5" text-anchor="middle">6</text>
<text x="135.5" y="172" font-size="8.9" textLength="42.2" lengthAdjust="spacingAndGlyphs">Spleen GO</text>
<text x="156.8" y="306.5" font-size="8.6" class="m" text-anchor="middle" textLength="44" lengthAdjust="spacingAndGlyphs">−Log10(P value)</text>
<rect x="99.6" y="318.1" width="4.8" height="4.8" fill="#2c4a82"/>
<text x="107.6" y="322.2" font-size="4.6" textLength="44.099999999999994" lengthAdjust="spacingAndGlyphs">Molecular Function</text>
<rect x="162.2" y="318.1" width="4.8" height="4.8" fill="#a5002a"/>
<text x="170.6" y="322.2" font-size="4.6" textLength="43.5" lengthAdjust="spacingAndGlyphs">Biological Process</text>
<line x1="383.5" y1="177" x2="383.5" y2="282" stroke="#000" stroke-width="1.0"/>
<line x1="383" y1="281.5" x2="472.7" y2="281.5" stroke="#000" stroke-width="1.0"/>
<rect x="387" y="179.9" width="77.2" height="4.1" fill="#2c4a82"/>
<line x1="380.8" y1="182" x2="383.8" y2="182" stroke="#000" stroke-width="0.95"/>
<text x="378" y="184" font-size="5.4" text-anchor="end" textLength="60.7" lengthAdjust="spacingAndGlyphs">transcription DNA binding</text>
<rect x="387" y="185.2" width="75.3" height="4.1" fill="#2c4a82"/>
<line x1="380.8" y1="187.2" x2="383.8" y2="187.2" stroke="#000" stroke-width="0.95"/>
<text x="378" y="189.2" font-size="5.4" text-anchor="end" textLength="85.7" lengthAdjust="spacingAndGlyphs">core promoter proximal DNA binding</text>
<rect x="387" y="190.4" width="68.4" height="4.1" fill="#2c4a82"/>
<line x1="380.8" y1="192.5" x2="383.8" y2="192.5" stroke="#000" stroke-width="0.95"/>
<text x="378" y="194.5" font-size="5.4" text-anchor="end" textLength="56.0" lengthAdjust="spacingAndGlyphs">RNA pol II DNA binding</text>
<rect x="387" y="195.7" width="66.5" height="4.1" fill="#2c4a82"/>
<line x1="380.8" y1="197.8" x2="383.8" y2="197.8" stroke="#000" stroke-width="0.95"/>
<text x="378" y="199.8" font-size="5.4" text-anchor="end" textLength="42.7" lengthAdjust="spacingAndGlyphs">RNA pol II binding</text>
<rect x="387" y="200.9" width="60.5" height="4.1" fill="#2c4a82"/>
<line x1="380.8" y1="203" x2="383.8" y2="203" stroke="#000" stroke-width="0.95"/>
<text x="378" y="205" font-size="5.4" text-anchor="end" textLength="67.7" lengthAdjust="spacingAndGlyphs">RNA pol II core DNA binding</text>
<rect x="387" y="206.2" width="49.5" height="4.1" fill="#2c4a82"/>
<line x1="380.8" y1="208.2" x2="383.8" y2="208.2" stroke="#000" stroke-width="0.95"/>
<text x="378" y="210.2" font-size="5.4" text-anchor="end" textLength="54.7" lengthAdjust="spacingAndGlyphs">RNA pol II core binding</text>
<rect x="387" y="211.4" width="43.9" height="4.1" fill="#2c4a82"/>
<line x1="380.8" y1="213.5" x2="383.8" y2="213.5" stroke="#000" stroke-width="0.95"/>
<text x="378" y="215.5" font-size="5.4" text-anchor="end" textLength="85.7" lengthAdjust="spacingAndGlyphs">protein tyrosine phosphatase activity</text>
<rect x="387" y="216.7" width="40.7" height="4.1" fill="#2c4a82"/>
<line x1="380.8" y1="218.8" x2="383.8" y2="218.8" stroke="#000" stroke-width="0.95"/>
<text x="378" y="220.8" font-size="5.4" text-anchor="end" textLength="89.0" lengthAdjust="spacingAndGlyphs">RNA pol II transcription factor binding</text>
<rect x="387" y="221.9" width="39.8" height="4.1" fill="#2c4a82"/>
<line x1="380.8" y1="224" x2="383.8" y2="224" stroke="#000" stroke-width="0.95"/>
<text x="378" y="226" font-size="5.4" text-anchor="end" textLength="40.7" lengthAdjust="spacingAndGlyphs">enhancer binding</text>
<rect x="387" y="228.9" width="71.8" height="4.1" fill="#a5002a"/>
<line x1="380.8" y1="231" x2="383.8" y2="231" stroke="#000" stroke-width="0.95"/>
<text x="378" y="233" font-size="5.4" text-anchor="end" textLength="65.2" lengthAdjust="spacingAndGlyphs">neg. reg. of cell proliferation</text>
<rect x="387" y="234.2" width="70.2" height="4.1" fill="#a5002a"/>
<line x1="380.8" y1="236.2" x2="383.8" y2="236.2" stroke="#000" stroke-width="0.95"/>
<text x="378" y="238.2" font-size="5.4" text-anchor="end" textLength="119.0" lengthAdjust="spacingAndGlyphs">pos. reg. of transcription from RNA poll II promoter</text>
<rect x="387" y="239.4" width="64.2" height="4.1" fill="#a5002a"/>
<line x1="380.8" y1="241.5" x2="383.8" y2="241.5" stroke="#000" stroke-width="0.95"/>
<text x="378" y="243.5" font-size="5.4" text-anchor="end" textLength="101.5" lengthAdjust="spacingAndGlyphs">pos. reg. of transcription − DNA−templated</text>
<rect x="387" y="244.7" width="61.9" height="4.1" fill="#a5002a"/>
<line x1="380.8" y1="246.8" x2="383.8" y2="246.8" stroke="#000" stroke-width="0.95"/>
<text x="378" y="248.8" font-size="5.4" text-anchor="end" textLength="53.2" lengthAdjust="spacingAndGlyphs">reg. of cell proliferation</text>
<rect x="387" y="249.9" width="61" height="4.1" fill="#a5002a"/>
<line x1="380.8" y1="252" x2="383.8" y2="252" stroke="#000" stroke-width="0.95"/>
<text x="378" y="254" font-size="5.4" text-anchor="end" textLength="107.7" lengthAdjust="spacingAndGlyphs">reg. of transcription from RNA poll II promoter</text>
<rect x="387" y="255.2" width="54.5" height="4.1" fill="#a5002a"/>
<line x1="380.8" y1="257.2" x2="383.8" y2="257.2" stroke="#000" stroke-width="0.95"/>
<text x="378" y="259.2" font-size="5.4" text-anchor="end" textLength="45.2" lengthAdjust="spacingAndGlyphs">T cell differentiation</text>
<rect x="387" y="260.4" width="54.5" height="4.1" fill="#a5002a"/>
<line x1="380.8" y1="262.5" x2="383.8" y2="262.5" stroke="#000" stroke-width="0.95"/>
<text x="378" y="264.5" font-size="5.4" text-anchor="end" textLength="77.7" lengthAdjust="spacingAndGlyphs">reg. of myeloid cell differentiation</text>
<rect x="387" y="265.7" width="52.9" height="4.1" fill="#a5002a"/>
<line x1="380.8" y1="267.8" x2="383.8" y2="267.8" stroke="#000" stroke-width="0.95"/>
<text x="378" y="269.8" font-size="5.4" text-anchor="end" textLength="65.2" lengthAdjust="spacingAndGlyphs">neg. reg. of cellular process</text>
<rect x="387" y="270.9" width="51.8" height="4.1" fill="#a5002a"/>
<line x1="380.8" y1="273" x2="383.8" y2="273" stroke="#000" stroke-width="0.95"/>
<text x="378" y="275" font-size="5.4" text-anchor="end" textLength="102.7" lengthAdjust="spacingAndGlyphs">neg. reg. of epithelial cell apoptotic process</text>
<rect x="387" y="276.2" width="51.3" height="4.1" fill="#a5002a"/>
<line x1="380.8" y1="278.2" x2="383.8" y2="278.2" stroke="#000" stroke-width="0.95"/>
<text x="378" y="280.2" font-size="5.4" text-anchor="end" textLength="83.2" lengthAdjust="spacingAndGlyphs">neg. reg. of protein phosphorylation</text>
<line x1="386.6" y1="281.2" x2="386.6" y2="284.2" stroke="#000" stroke-width="1.1"/>
<text x="386.6" y="294" font-size="6.5" text-anchor="middle">0</text>
<line x1="413.2" y1="281.2" x2="413.2" y2="284.2" stroke="#000" stroke-width="1.1"/>
<text x="413.2" y="294" font-size="6.5" text-anchor="middle">2</text>
<line x1="439.7" y1="281.2" x2="439.7" y2="284.2" stroke="#000" stroke-width="1.1"/>
<text x="439.7" y="294" font-size="6.5" text-anchor="middle">4</text>
<line x1="466.2" y1="281.2" x2="466.2" y2="284.2" stroke="#000" stroke-width="1.1"/>
<text x="466.2" y="294" font-size="6.5" text-anchor="middle">6</text>
<text x="395.2" y="172" font-size="8.9" textLength="66.8" lengthAdjust="spacingAndGlyphs">Bone Marrow GO</text>
<text x="427.8" y="306.5" font-size="8.6" class="m" text-anchor="middle" textLength="44" lengthAdjust="spacingAndGlyphs">−Log10(P value)</text>
<rect x="371.2" y="318.1" width="4.8" height="4.8" fill="#2c4a82"/>
<text x="379.4" y="322.2" font-size="4.6" textLength="43.700000000000045" lengthAdjust="spacingAndGlyphs">Molecular Function</text>
<rect x="433.6" y="318.1" width="4.8" height="4.8" fill="#a5002a"/>
<text x="442.2" y="322.2" font-size="4.6" textLength="43.5" lengthAdjust="spacingAndGlyphs">Biological Process</text>
<text x="32.2" y="364" font-size="8.8" class="n" font-style="italic" fill="#222" textLength="26.3" lengthAdjust="spacingAndGlyphs">c-MYB</text>
<line x1="32.2" y1="375.9" x2="148.7" y2="375.9" stroke="#555" stroke-width="1.3"/>
<text x="90.6" y="370.8" font-size="6.4" class="n" text-anchor="middle" fill="#222" textLength="19.2" lengthAdjust="spacingAndGlyphs">Spleen</text>
<text x="51.9" y="385.2" font-size="6.5" class="n" text-anchor="middle" fill="#111" textLength="19.4" lengthAdjust="spacingAndGlyphs">Vehicle</text>
<text x="129.1" y="385.2" font-size="6.5" class="n" text-anchor="middle" fill="#111" textLength="25.8" lengthAdjust="spacingAndGlyphs">ABT-199</text>
<line x1="32.5" y1="390.6" x2="32.5" y2="434" stroke="#000" stroke-width="1.0"/>
<line x1="32" y1="433.5" x2="72.3" y2="433.5" stroke="#000" stroke-width="1.0"/>
<line x1="29.7" y1="393.5" x2="32.3" y2="393.5" stroke="#000" stroke-width="1.0"/>
<text x="25.9" y="395.7" font-size="6.3" text-anchor="end">8</text>
<line x1="29.7" y1="404.7" x2="32.3" y2="404.7" stroke="#000" stroke-width="1.0"/>
<text x="25.9" y="406.9" font-size="6.3" text-anchor="end">4</text>
<line x1="29.7" y1="415.9" x2="32.3" y2="415.9" stroke="#000" stroke-width="1.0"/>
<text x="25.9" y="418.1" font-size="6.3" text-anchor="end">0</text>
<line x1="29.7" y1="427.1" x2="32.3" y2="427.1" stroke="#000" stroke-width="1.0"/>
<text x="25.9" y="429.3" font-size="6.3" text-anchor="end">-4</text>
<line x1="33.8" y1="433.5" x2="33.8" y2="436.1" stroke="#000" stroke-width="1.0"/>
<text x="33.8" y="445.8" font-size="6.3" text-anchor="middle">-10</text>
<line x1="44.3" y1="433.5" x2="44.3" y2="436.1" stroke="#000" stroke-width="1.0"/>
<text x="44.3" y="445.8" font-size="6.3" text-anchor="middle">-5</text>
<line x1="54.9" y1="433.5" x2="54.9" y2="436.1" stroke="#000" stroke-width="1.0"/>
<text x="54.9" y="445.8" font-size="6.3" text-anchor="middle">0</text>
<line x1="65.4" y1="433.5" x2="65.4" y2="436.1" stroke="#000" stroke-width="1.0"/>
<text x="65.4" y="445.8" font-size="6.3" text-anchor="middle">5</text>
<text x="51.7" y="458.4" font-size="8.0" text-anchor="middle" font-weight="bold" textLength="22" lengthAdjust="spacingAndGlyphs">UMAP-1</text>
<text x="14.7" y="423.2" font-size="8.0" font-weight="bold" textLength="22" lengthAdjust="spacingAndGlyphs" transform="rotate(-90 14.7 423.2)">UMAP-2</text>
<path d="M60.2 403.2L63.6 404L67.6 405.3L69.5 407.6L69.3 410.9L68.2 414.9L68.6 420.2L67.8 425.5L64.9 430.2L59.6 432.2L54.9 431.5L51.6 428.9L50 424.2L49.6 418.9L50.9 414.2L53.6 411.6L56.9 409.8L58.9 406.9L59.3 404.3Z" fill="#d8d8d5"/>
<path d="M49.6 395L52.3 396.3L53.3 400.3L52.9 403.6L53.6 406.9L51.6 407.6L48.9 406.3L47.6 403.6L47.3 399.6L48.3 396.3Z" fill="#d8d4d0"/>
<path d="M58.8 415.7L61.3 416.7L59.8 421L56.8 425.1L54.3 424.9L55.1 422L56.8 418.5Z" fill="#e9e9e7"/>
<path d="M68.9 423h0M67.2 417.3h0M63.2 403.7h0M68.1 419.8h0M63.9 431h0M68.4 418.2h0M50.8 415.1h0M58.2 404.5h0M67.4 417.2h0M49.4 424.1h0M68.4 418.5h0M65.4 428.6h0M55.6 432.7h0M50.2 419.5h0M61.9 403.4h0M68.3 418.9h0M60.1 432.3h0M69.7 410.4h0M68.3 422.2h0M50.6 427h0M55.8 409.8h0M67.9 425.6h0M58.2 407.6h0M61.1 431.4h0M53.5 430.4h0M68.3 412h0M68 414.4h0M49.9 418.5h0M59.2 403.8h0M70 410.6h0M68.5 406.3h0M56.8 432.7h0M48.8 418.1h0M50.1 424.4h0M63.1 431.6h0M52.4 412.7h0M49.7 416.4h0M59.8 432.5h0M68.4 419.8h0M50.8 413.8h0M49.6 417.1h0M68.9 406.5h0M49.7 424.3h0M67.4 425.5h0M61 403.5h0M69.4 408h0M66.8 429h0M65.1 429.9h0M49.8 416.2h0M60.7 431.5h0M57.9 406.9h0M70.2 409.3h0M67.7 415h0M57.7 409.9h0M60.9 402.9h0M64.8 404.4h0M70.5 413.8h0M66.9 415h0M51.9 429.2h0M65.9 405.6h0M51.9 430.4h0M55.2 431.4h0M52.8 412.8h0M59.3 403.7h0M49.9 422.8h0M67.6 405.9h0M51.7 429.1h0M66.3 430.5h0M50.6 422.3h0M68.7 421.5h0M51.2 427.1h0M50.1 413.7h0M62.8 431.2h0M68.1 421.9h0M55.4 432.1h0M60.4 404h0M59.7 407.3h0M59.2 404.5h0M60.2 403.7h0M68.4 419.7h0M52 412h0M59.5 432.7h0M60.4 431.6h0M50.1 425.5h0M63.6 403.9h0M49.6 421.5h0M49.1 420.5h0M68.5 410.5h0M52.8 429.3h0M63.6 403.9h0" stroke="#d8d8d5" stroke-width="0.9" stroke-linecap="round" fill="none"/>
<path d="M53.4 407.9h0M54.5 409.6h0M53.5 406.5h0M56.2 408.7h0M53.4 407.9h0M55.2 408.7h0M54.7 408.8h0M53.4 408h0M53 408.2h0M55.7 409.5h0M53.6 408.4h0M55 408.4h0M57.2 409.9h0M56.5 409.2h0" stroke="#d8d0cc" stroke-width="0.8" stroke-linecap="round" fill="none"/>
<path d="M42.3 407.8h0M42.4 412.5h0M35.8 414.8h0M36.4 415.7h0M41.1 413.1h0M35.4 408.7h0M42.2 404.7h0M35 409.5h0M43.5 413h0M37 404.2h0M41.9 406.2h0M36.4 408h0M36.3 414.6h0M42.5 407.2h0M40.5 404.3h0M42.3 413.3h0M39.4 410h0M41.2 415.5h0M40.7 418h0M37.4 417.2h0M43.7 408.4h0M40.4 414.5h0M42.5 405.6h0M41.5 409.9h0M36.8 407.3h0M38.4 414.7h0M40.3 408h0M37.5 410.3h0M37.7 416.1h0M39.3 403.7h0M40.9 411.6h0M35.3 411.9h0M40 407.8h0M36.9 405.4h0M39.6 408.8h0M40.7 413.7h0M37.5 412.6h0M37.3 414.8h0M36.7 412.4h0M42.3 415.7h0M40.1 417.5h0M38.3 407.2h0M41.1 405h0M36.4 404.4h0M41.4 409.1h0M40.1 408.3h0M37.9 403.7h0M44.8 409h0M42.7 410.1h0M39.5 413.3h0M38.1 413.7h0M40.1 404.4h0M42.7 411h0M42.7 413h0M40.5 405.6h0M36.1 404.2h0M39.1 407.5h0M42.5 404.8h0M36.9 412.4h0M40.7 409.3h0" stroke="#e6e3e1" stroke-width="0.8" stroke-linecap="round" fill="none"/>
<path d="M42.3 407.8h0M42.4 412.5h0M35.8 414.8h0M36.4 415.7h0M41.1 413.1h0M35.4 408.7h0M42.2 404.7h0M35 409.5h0M43.5 413h0M37 404.2h0M41.9 406.2h0M36.4 408h0" stroke="#d4a098" stroke-width="0.8" stroke-linecap="round" fill="none"/>
<path d="M63.4 414h0M61.6 426.9h0M51.1 415.5h0M56.6 430.2h0M62 408.9h0M59.8 405.2h0M52.3 417.9h0M60.3 409.4h0M61.2 412.2h0M63.6 404.7h0M66.3 416.2h0M62.1 406h0M67.8 409.6h0M58.7 431.1h0M60.5 421.8h0M61.6 410.1h0M50.2 423.3h0M66.9 426.6h0M66.6 409.4h0M55.8 420.6h0M61.9 421.4h0M60.6 410h0M50.7 420.1h0M68.7 407.4h0M56.8 412.2h0M59.2 409.9h0M59.5 426.4h0M56.6 425h0M65.1 413.4h0M64.3 413.4h0M53 415.4h0M51.9 424h0M54.6 417.6h0M65.7 420.6h0M67.7 424.2h0M63.4 424.7h0M63.3 429.8h0M61.4 422.4h0M60.5 418.7h0M68.3 411.9h0M53.4 417.7h0M55.8 423.9h0M53.8 421.2h0M57.5 422.9h0M51.4 421.1h0M61.8 421h0M59.7 417.9h0M58.2 426.8h0M62.9 426.6h0M54.1 417.3h0M52.9 404.1h0M51 406.3h0M51.2 404.5h0M49.2 398.9h0M53 405h0M51.2 404.3h0M49.1 396.3h0M48.4 398.3h0M50.9 399.1h0M51.6 405.3h0M48.1 401.5h0M50.7 405.2h0M52.2 404.3h0M49.5 401.2h0M47.8 403.1h0M68.8 414.5h0M68.3 404.7h0M70 409.1h0M69.4 407.2h0M61.4 404.4h0M66.2 405.1h0M70.7 408.3h0M69.5 414.4h0M67.3 404h0M71.4 406.9h0M62.3 403.9h0M69.4 408.6h0M68.3 405h0M62.3 404.8h0M61.4 402h0M61.9 403.4h0M69.4 407.2h0M66.6 405.3h0M68.1 414.3h0M63.8 403.2h0M64.3 405h0M67.5 412.7h0M67.5 405.6h0M67.3 404.8h0M67.9 406.5h0M66.5 405.9h0M61 404.1h0M64.1 402.8h0M69.1 413.4h0M64 404.6h0M69.1 411.9h0M60.2 404.1h0M60 403.6h0M69 413.5h0M63.5 403.6h0M67.9 406.2h0M67.9 413.4h0M68.7 404.6h0M69.5 408.7h0M67.2 407.1h0M68.5 414.3h0M68.1 414.5h0M65.4 403.7h0M69.2 410.2h0M68 415.3h0M67.8 407h0M69.1 412.7h0M69.3 413.1h0M66.7 405h0M61.9 402.9h0M50.8 425h0M50.1 417.1h0M50.2 425.9h0M49.7 426.9h0M51.5 426.6h0M51.8 418.3h0M50.7 424.4h0M52.5 415.2h0M51.8 413.6h0M49 417.7h0M52.4 427.6h0M53.6 413.1h0M49.8 418.7h0M51.7 412.3h0M50 429.2h0M56.8 430.4h0M51.5 424.8h0M51.6 414.7h0M50.7 429.4h0M54.9 410.8h0M53 410.6h0M56.2 432.4h0M57.4 431.3h0M54.3 430.8h0M52.7 428.1h0M50.8 426.3h0M48.8 418.3h0M48.3 425.1h0M58.3 433.6h0M51.3 429.8h0M52.2 428.9h0M49.7 421.8h0M49.1 418.8h0M56.3 432.8h0M49.5 421.1h0M50.4 422.6h0M53.6 430.4h0M51.4 395.9h0M53.2 401.4h0M53.4 401.8h0M54.2 397h0M52.8 399.4h0M50.2 395.9h0M52.6 399h0M53.5 402.7h0M49.5 396.6h0M52.9 397.7h0M52.6 396.4h0M52.4 400.2h0M48.6 396.7h0M52 399.8h0M52.8 398.6h0M59.2 410.2h0M57.2 412.5h0M56.1 412.2h0M63.6 406.8h0M61.4 410.7h0M54.2 411.4h0M56.1 411.9h0M58.7 410.5h0M58.7 410.1h0M63.1 409.4h0M62.9 408.9h0M62.8 408.9h0M61.1 410.7h0M65.3 406.8h0M61.6 407.4h0M55.6 409h0M60.7 410h0M61.8 407.6h0" stroke="#c0665c" stroke-width="0.68" stroke-linecap="round" fill="none"/>
<line x1="109.5" y1="390.6" x2="109.5" y2="434" stroke="#000" stroke-width="1.0"/>
<line x1="109" y1="433.5" x2="149.3" y2="433.5" stroke="#000" stroke-width="1.0"/>
<line x1="106.7" y1="393.5" x2="109.3" y2="393.5" stroke="#000" stroke-width="1.0"/>
<text x="102.9" y="395.7" font-size="6.3" text-anchor="end">8</text>
<line x1="106.7" y1="404.7" x2="109.3" y2="404.7" stroke="#000" stroke-width="1.0"/>
<text x="102.9" y="406.9" font-size="6.3" text-anchor="end">4</text>
<line x1="106.7" y1="415.9" x2="109.3" y2="415.9" stroke="#000" stroke-width="1.0"/>
<text x="102.9" y="418.1" font-size="6.3" text-anchor="end">0</text>
<line x1="106.7" y1="427.1" x2="109.3" y2="427.1" stroke="#000" stroke-width="1.0"/>
<text x="102.9" y="429.3" font-size="6.3" text-anchor="end">-4</text>
<line x1="110.8" y1="433.5" x2="110.8" y2="436.1" stroke="#000" stroke-width="1.0"/>
<text x="110.8" y="445.8" font-size="6.3" text-anchor="middle">-10</text>
<line x1="121.3" y1="433.5" x2="121.3" y2="436.1" stroke="#000" stroke-width="1.0"/>
<text x="121.3" y="445.8" font-size="6.3" text-anchor="middle">-5</text>
<line x1="131.9" y1="433.5" x2="131.9" y2="436.1" stroke="#000" stroke-width="1.0"/>
<text x="131.9" y="445.8" font-size="6.3" text-anchor="middle">0</text>
<line x1="142.4" y1="433.5" x2="142.4" y2="436.1" stroke="#000" stroke-width="1.0"/>
<text x="142.4" y="445.8" font-size="6.3" text-anchor="middle">5</text>
<text x="128.7" y="458.4" font-size="8.0" text-anchor="middle" font-weight="bold" textLength="22" lengthAdjust="spacingAndGlyphs">UMAP-1</text>
<text x="91.7" y="423.2" font-size="8.0" font-weight="bold" textLength="22" lengthAdjust="spacingAndGlyphs" transform="rotate(-90 91.7 423.2)">UMAP-2</text>
<path d="M137.2 403.2L140.6 404L144.6 405.3L146.5 407.6L146.3 410.9L145.2 414.9L145.6 420.2L144.8 425.5L141.9 430.2L136.6 432.2L131.9 431.5L128.6 428.9L127 424.2L126.6 418.9L127.9 414.2L130.6 411.6L133.9 409.8L135.9 406.9L136.3 404.3Z" fill="#d8d8d5"/>
<path d="M126.6 395L129.3 396.3L130.3 400.3L129.9 403.6L130.6 406.9L128.6 407.6L125.9 406.3L124.6 403.6L124.3 399.6L125.3 396.3Z" fill="#d8d4d0"/>
<path d="M135.8 415.7L138.3 416.7L136.8 421L133.8 425.1L131.3 424.9L132.1 422L133.8 418.5Z" fill="#e9e9e7"/>
<path d="M135.8 407.9h0M126.3 423.6h0M134 408.3h0M138.4 403.7h0M145.6 413.5h0M128.3 426.5h0M144.7 420.2h0M127 419.9h0M134 431.4h0M135.4 432h0M128.6 412.7h0M126.9 421.4h0M130.5 412.9h0M146.5 409.1h0M146.1 409.7h0M129.6 413.8h0M126 423h0M140.7 430.4h0M129.5 412.9h0M139.1 403.6h0M127.7 419.8h0M130.6 430.6h0M128.8 412.2h0M140.6 403.8h0M128.5 413.7h0M143.2 427.3h0M131.1 411.5h0M145.5 423.9h0M141.6 405.1h0M139.3 430.7h0M143.4 427.4h0M127.3 424.1h0M145.8 418h0M132.2 410.6h0M144.1 425.5h0M135 406.4h0M126.9 423h0M131.2 431.9h0M127.3 417.6h0M145.2 417.2h0M141.3 429.1h0M130.6 411.9h0M144.7 426.2h0M139.7 430.7h0M134 431.7h0M125.6 425.3h0M137 432.2h0M130.8 430.5h0M145 415.6h0M126.7 418.6h0M128.7 429.2h0M126.2 420.3h0M130.8 430.8h0M134 431.3h0M139.2 430.8h0M127.4 426.9h0M141.1 430.7h0M132.5 432.7h0M145.6 415.7h0M134.4 408.7h0M128.5 428.3h0M145.9 410.2h0M132.5 431h0M132.8 431.4h0M133.6 409.8h0M134.2 409.3h0M126.2 418.8h0M136.8 431.1h0M132.2 410.3h0M126.3 422.7h0M136.1 432.4h0M145.8 410.3h0M144.6 418.5h0M128.2 426.5h0M143.5 427.2h0M146.2 412.1h0M132.4 410.8h0M146.2 414.6h0M144.7 424.4h0M133.4 431.9h0M128.4 428.6h0M127.4 422.1h0M128.9 427.5h0M141.3 431.1h0M135.8 406.8h0M139.1 431h0M145.1 416h0M145.6 424.3h0M142 430.7h0M135.5 407.7h0" stroke="#d8d8d5" stroke-width="0.9" stroke-linecap="round" fill="none"/>
<path d="M133 408.9h0M130.7 408.4h0M132.7 408.3h0M131.5 407.2h0M133 408.1h0M132.3 408.3h0M133.4 410.5h0M131.8 408.2h0M134.6 409.9h0M133.5 409.4h0M133.1 408.4h0M131 407.8h0M130.9 409.1h0M133.5 409.9h0" stroke="#d8d0cc" stroke-width="0.8" stroke-linecap="round" fill="none"/>
<path d="M119.8 407.3L119.7 409L118.6 410.3L117 410.7L115.6 411.1L113.9 411.3L113 409.9L111.6 409L111.4 407.3L112.2 405.9L112.9 404.6L114 403.4L115.6 403.2L117 404L118.4 404.5L119.1 405.9Z" fill="#aa2424"/>
<path d="M120.4 414.5L119.8 415.9L118.6 416.8L117.5 417.8L115.9 417.8L114.2 418.2L112.7 417.3L111.8 416L112.1 414.5L111.7 413L113.1 412L114.2 411L115.9 410.6L117.5 411L118.6 412.1L119.6 413.2Z" fill="#aa2424"/>
<path d="M112.3 410L119.3 410L118.8 412L112.8 412Z" fill="#aa2424"/>
<path d="M117.6 406h0M115.2 416.2h0M115.5 406.4h0M117 408.9h0M117.9 409.1h0M118.2 414.8h0M114 411.3h0M115.7 406h0M118.7 408.8h0M116.8 405.3h0M117.2 406.1h0M117.1 410.4h0M115.9 407.2h0M113.8 415.1h0" stroke="#d88080" stroke-width="1.0" stroke-linecap="round" fill="none"/>
<path d="M122.4 404h0M121.2 403.8h0M122.1 403.9h0M122.2 405h0M123 403.4h0M120.9 405.7h0M120.4 405.4h0" stroke="#aa2424" stroke-width="0.9" stroke-linecap="round" fill="none"/>
<path d="M135 414.2h0M143.1 413.6h0M131.5 420.9h0M129.2 422.9h0M131.6 425.5h0M133.4 418.2h0M132.1 415.1h0M144.8 410.5h0M135 429.5h0M135.6 426.8h0M137.2 413.3h0M140.9 422.1h0M128.4 427.8h0M140.9 423.8h0M136 424.9h0M127.5 422.6h0M143.8 415h0M141.3 423.4h0M136.6 425.5h0M136.2 406.7h0M137 425h0M129.9 416.6h0M143.8 413.4h0M133.8 423.5h0M138 411.5h0M129.7 415.4h0M140.9 423.4h0M140.3 429.7h0M137 414.9h0M144.9 421.3h0M136 419.2h0M135.9 420.1h0M143.1 411.6h0M134.7 412.8h0M133.9 428.8h0M143.6 422.9h0M129.9 424.6h0M139.7 410.6h0M144.3 408.4h0M139.9 415.9h0M126.2 404.8h0M129.2 406.8h0M125.3 397.7h0M126.7 399h0M125.6 404.5h0M125.1 398.9h0M126.1 400.8h0M125.9 397.4h0M128.3 404.7h0M128.9 401.4h0M128.9 399.2h0M129.3 401.8h0M145.8 411.3h0M145.2 406.3h0M145.4 405.5h0M145.5 412.5h0M145.9 408.8h0M139.1 406h0M144.9 409.7h0M142.7 404.5h0M144.1 404.4h0M139.1 405h0M147.7 407.2h0M144.5 404.4h0M146.4 411.6h0M144.9 414.6h0M144.7 406.4h0M137.7 401.9h0M146.9 410.8h0M138.4 402.8h0M142.4 404.8h0M147.6 410.6h0M137.6 403.8h0M139.6 404.1h0M140.5 404.3h0M144.5 406.2h0M144.9 407.4h0M145.8 412.9h0M146.1 407.3h0M146.4 408h0M143.5 416.1h0M146 409.5h0M140.1 404.6h0M136.8 403.3h0M141.5 405h0M145.8 411.7h0M145.4 403.8h0M145.8 410.3h0M141.4 403.9h0M141.5 403.5h0M146.7 407.9h0M146.1 413.5h0M136.1 432h0M127.2 421.2h0M133.1 431.5h0M127.9 429.1h0M127.6 422.4h0M132.2 431.1h0M126.1 419.8h0M135 432.6h0M135.2 431.3h0M131.8 430.7h0M126.9 423h0M130.1 411.4h0M126.9 418.5h0M127.9 414.9h0M134.7 432.8h0M128.2 431.3h0M132.9 431.9h0M128.5 429h0M127.6 426.4h0M131.7 430.5h0M128.2 412.2h0M126.7 416.1h0M131.5 431.8h0M126.1 426.2h0M126.9 418h0M127.5 420.4h0M133.4 410.9h0M128.6 430h0M125.6 424.1h0M129.7 430.7h0M130 397.8h0M128.1 396.6h0M128.8 395.7h0M131.1 400.7h0M130 397.7h0M130.2 398.4h0M129.2 402.9h0M129.7 398.6h0M127.9 395h0M128.2 396.5h0M132.1 398.8h0M129.5 402.8h0M130.9 410.9h0M133.3 411h0M132.6 409.2h0M135.4 409.7h0M132.5 410.9h0M134 408.7h0M138.9 409.9h0M135 411.1h0M138.4 408.9h0M132.3 411.6h0M132.8 412.5h0M133.7 411.9h0M139.1 410.2h0M138.9 408.3h0M140.3 408.7h0" stroke="#c0665c" stroke-width="0.68" stroke-linecap="round" fill="none"/>
<text x="190.3" y="363.2" font-size="8.8" class="n" font-style="italic" fill="#222" textLength="26.8" lengthAdjust="spacingAndGlyphs">GATA3</text>
<line x1="190.3" y1="375.6" x2="308.8" y2="375.6" stroke="#555" stroke-width="1.3"/>
<text x="249.5" y="370.8" font-size="6.4" class="n" text-anchor="middle" fill="#222" textLength="19.2" lengthAdjust="spacingAndGlyphs">Spleen</text>
<text x="211.3" y="385.2" font-size="6.5" class="n" text-anchor="middle" fill="#111" textLength="19.4" lengthAdjust="spacingAndGlyphs">Vehicle</text>
<text x="288" y="385.2" font-size="6.5" class="n" text-anchor="middle" fill="#111" textLength="25.8" lengthAdjust="spacingAndGlyphs">ABT-199</text>
<line x1="190.5" y1="390.6" x2="190.5" y2="434" stroke="#000" stroke-width="1.0"/>
<line x1="190" y1="433.5" x2="233.2" y2="433.5" stroke="#000" stroke-width="1.0"/>
<line x1="187.8" y1="393.5" x2="190.4" y2="393.5" stroke="#000" stroke-width="1.0"/>
<text x="184" y="395.7" font-size="6.3" text-anchor="end">8</text>
<line x1="187.8" y1="404.7" x2="190.4" y2="404.7" stroke="#000" stroke-width="1.0"/>
<text x="184" y="406.9" font-size="6.3" text-anchor="end">4</text>
<line x1="187.8" y1="415.9" x2="190.4" y2="415.9" stroke="#000" stroke-width="1.0"/>
<text x="184" y="418.1" font-size="6.3" text-anchor="end">0</text>
<line x1="187.8" y1="427.1" x2="190.4" y2="427.1" stroke="#000" stroke-width="1.0"/>
<text x="184" y="429.3" font-size="6.3" text-anchor="end">-4</text>
<line x1="192" y1="433.5" x2="192" y2="436.1" stroke="#000" stroke-width="1.0"/>
<text x="192" y="445.8" font-size="6.3" text-anchor="middle">-10</text>
<line x1="203.2" y1="433.5" x2="203.2" y2="436.1" stroke="#000" stroke-width="1.0"/>
<text x="203.2" y="445.8" font-size="6.3" text-anchor="middle">-5</text>
<line x1="214.6" y1="433.5" x2="214.6" y2="436.1" stroke="#000" stroke-width="1.0"/>
<text x="214.6" y="445.8" font-size="6.3" text-anchor="middle">0</text>
<line x1="225.8" y1="433.5" x2="225.8" y2="436.1" stroke="#000" stroke-width="1.0"/>
<text x="225.8" y="445.8" font-size="6.3" text-anchor="middle">5</text>
<text x="211.2" y="458.4" font-size="8.0" text-anchor="middle" font-weight="bold" textLength="22" lengthAdjust="spacingAndGlyphs">UMAP-1</text>
<text x="172.8" y="423.2" font-size="8.0" font-weight="bold" textLength="22" lengthAdjust="spacingAndGlyphs" transform="rotate(-90 172.8 423.2)">UMAP-2</text>
<path d="M220.3 403.2L223.9 404L228.2 405.3L230.2 407.6L230 410.9L228.8 414.9L229.2 420.2L228.4 425.5L225.3 430.2L219.6 432.2L214.6 431.5L211.1 428.9L209.3 424.2L208.9 418.9L210.3 414.2L213.2 411.6L216.7 409.8L218.9 406.9L219.3 404.3Z" fill="#d8d8d5"/>
<path d="M208.9 395L211.8 396.3L212.9 400.3L212.4 403.6L213.2 406.9L211.1 407.6L208.2 406.3L206.8 403.6L206.5 399.6L207.5 396.3Z" fill="#d8d4d0"/>
<path d="M218.8 415.7L221.4 416.7L219.8 421L216.6 425.1L213.9 424.9L214.8 422L216.6 418.5Z" fill="#e9e9e7"/>
<path d="M210 424h0M221.7 403.9h0M210.7 425.9h0M209.5 424.9h0M217.1 410h0M210.3 414.7h0M224.7 404.3h0M212 412.8h0M209.9 427h0M208.3 422.6h0M219.6 403.9h0M213.2 430.6h0M229.3 413.6h0M228.7 425.5h0M215.3 411.9h0M228.7 411.7h0M222.8 430.7h0M209 416.7h0M210.2 417.6h0M230 407.4h0M228.1 415.2h0M214.3 411h0M225.2 403.9h0M209.3 423.2h0M229.4 418.5h0M218.6 407.4h0M224.6 404.3h0M227.4 405.4h0M229.2 413.8h0M219.4 405h0M214.7 410.4h0M228.5 424.9h0M211 418.3h0M220.2 403.1h0M210.5 426.2h0M227.9 427.9h0M229.8 422.5h0M209 417.7h0M211.4 412.7h0M230 412.6h0M211.4 414.6h0M214.3 431.6h0M213.1 413.5h0M218.8 405.4h0M230.3 409.6h0M229.4 419.3h0M228.5 417.8h0M216.5 409h0M229.5 407.5h0M209.4 415.7h0M221.3 431.8h0M214.7 431.4h0M229 419.8h0M225.4 430.3h0M224.5 404.4h0M218.7 405h0M211.5 428.6h0M209.9 414.8h0M223.6 403.5h0M222.6 431.2h0M227.7 417.9h0M228.6 421.1h0M227.3 427.5h0M217.9 432.2h0M215.6 409.2h0M212.9 411.4h0M225.9 404.3h0M217.8 408.6h0M210.1 422.4h0M210 414h0M218.2 408h0M224.3 430.5h0M226.8 428.5h0M209.9 425.8h0M216 431.8h0M221.4 432.3h0M210 415.3h0M219.9 404.7h0M228.8 412.1h0M217.5 432.2h0M217.4 408.9h0M223.2 403.9h0M209.9 416.6h0M221 403.5h0M225.9 428.8h0M219.3 406.8h0M208.6 424.1h0M218.5 432.7h0M215.6 432h0M229.5 415.9h0" stroke="#d8d8d5" stroke-width="0.9" stroke-linecap="round" fill="none"/>
<path d="M216.3 411.1h0M215.6 408.4h0M215.8 407.7h0M214.7 408.3h0M211.8 408.8h0M213.2 407.7h0M213.4 407.6h0M214.8 408.9h0M212.1 407.6h0M215.3 409.7h0M212.7 407.5h0M215.6 409.6h0M212 407.7h0M215.5 408.4h0" stroke="#d8d0cc" stroke-width="0.8" stroke-linecap="round" fill="none"/>
<path d="M195 407.6h0M198.3 410.7h0M196.1 405.6h0M198.4 403.4h0M197.1 407h0M200.8 409.5h0M199.6 412.3h0M199.1 414h0M199.1 404.1h0M202.1 411.4h0M198.4 418.1h0M197.5 410.4h0M201.4 410h0M197.7 414.7h0M202.8 410.2h0M200.7 411.9h0M199 406.3h0M196 407h0M195.3 406.2h0M201.9 413.6h0M196.3 404.6h0M200.4 414.8h0M200 414.3h0M199.5 403.4h0M194.7 409h0M202 406.1h0M193.9 405.6h0M201.8 405.7h0M196.7 415.5h0M202.1 409.3h0M197.5 414h0M196.7 406.7h0M194.9 412.7h0M200.9 406.5h0M201.1 412.6h0M199.2 411.3h0M198.8 413.5h0M200.1 405.5h0M202.4 409.5h0M198.3 412.9h0M196.5 412.4h0M193.9 406.2h0M201 406.6h0M194.1 413.3h0M199.3 411.4h0M199.8 404.1h0M201.3 404.3h0M198.3 415.3h0M201.6 407.7h0M200 411.6h0M198.4 412.4h0M197.8 409h0M201.4 413.2h0M201.8 404.7h0M198.5 410.9h0M196.6 412.5h0M197.1 409h0M200 414h0M202.9 408.7h0M198.4 410.1h0" stroke="#e6e3e1" stroke-width="0.8" stroke-linecap="round" fill="none"/>
<path d="M195 407.6h0M198.3 410.7h0M196.1 405.6h0M198.4 403.4h0M197.1 407h0M200.8 409.5h0M199.6 412.3h0M199.1 414h0M199.1 404.1h0M202.1 411.4h0M198.4 418.1h0M197.5 410.4h0" stroke="#d4a098" stroke-width="0.8" stroke-linecap="round" fill="none"/>
<path d="M211.3 417.6h0M222.3 405.5h0M221.2 423.3h0M216.3 418.8h0M214.3 430.5h0M222.5 418.9h0M226.1 427.5h0M225 414.8h0M220.4 412.5h0M210.6 414h0M227.1 412.2h0M212.1 416.2h0M222.4 426.2h0M209.9 416.7h0M208.8 395.3h0M207.8 398.5h0M211.3 397.6h0M208.6 398.8h0M209.2 396h0M208.9 395.8h0M210.7 415.9h0M208.8 420.9h0M207.8 418.7h0M209.8 415.1h0M209.2 416h0M209.3 420.1h0M208.5 418.2h0M209 422.3h0M207.9 418.2h0M208.4 420.6h0" stroke="#cc4a40" stroke-width="0.8" stroke-linecap="round" fill="none"/>
<line x1="266.5" y1="390.6" x2="266.5" y2="434" stroke="#000" stroke-width="1.0"/>
<line x1="266" y1="433.5" x2="309.5" y2="433.5" stroke="#000" stroke-width="1.0"/>
<line x1="264.1" y1="393.5" x2="266.7" y2="393.5" stroke="#000" stroke-width="1.0"/>
<text x="260.3" y="395.7" font-size="6.3" text-anchor="end">8</text>
<line x1="264.1" y1="404.7" x2="266.7" y2="404.7" stroke="#000" stroke-width="1.0"/>
<text x="260.3" y="406.9" font-size="6.3" text-anchor="end">4</text>
<line x1="264.1" y1="415.9" x2="266.7" y2="415.9" stroke="#000" stroke-width="1.0"/>
<text x="260.3" y="418.1" font-size="6.3" text-anchor="end">0</text>
<line x1="264.1" y1="427.1" x2="266.7" y2="427.1" stroke="#000" stroke-width="1.0"/>
<text x="260.3" y="429.3" font-size="6.3" text-anchor="end">-4</text>
<line x1="268.3" y1="433.5" x2="268.3" y2="436.1" stroke="#000" stroke-width="1.0"/>
<text x="268.3" y="445.8" font-size="6.3" text-anchor="middle">-10</text>
<line x1="279.5" y1="433.5" x2="279.5" y2="436.1" stroke="#000" stroke-width="1.0"/>
<text x="279.5" y="445.8" font-size="6.3" text-anchor="middle">-5</text>
<line x1="290.9" y1="433.5" x2="290.9" y2="436.1" stroke="#000" stroke-width="1.0"/>
<text x="290.9" y="445.8" font-size="6.3" text-anchor="middle">0</text>
<line x1="302.1" y1="433.5" x2="302.1" y2="436.1" stroke="#000" stroke-width="1.0"/>
<text x="302.1" y="445.8" font-size="6.3" text-anchor="middle">5</text>
<text x="287.5" y="458.4" font-size="8.0" text-anchor="middle" font-weight="bold" textLength="22" lengthAdjust="spacingAndGlyphs">UMAP-1</text>
<text x="249.1" y="423.2" font-size="8.0" font-weight="bold" textLength="22" lengthAdjust="spacingAndGlyphs" transform="rotate(-90 249.1 423.2)">UMAP-2</text>
<path d="M296.6 403.2L300.2 404L304.5 405.3L306.5 407.6L306.3 410.9L305.1 414.9L305.5 420.2L304.7 425.5L301.6 430.2L295.9 432.2L290.9 431.5L287.4 428.9L285.6 424.2L285.2 418.9L286.6 414.2L289.5 411.6L293 409.8L295.2 406.9L295.6 404.3Z" fill="#d8d8d5"/>
<path d="M285.2 395L288.1 396.3L289.2 400.3L288.7 403.6L289.5 406.9L287.4 407.6L284.5 406.3L283.1 403.6L282.8 399.6L283.8 396.3Z" fill="#d8d4d0"/>
<path d="M295.1 415.7L297.7 416.7L296.1 421L292.9 425.1L290.2 424.9L291.1 422L292.9 418.5Z" fill="#e9e9e7"/>
<path d="M285.8 419.9h0M304.6 417.6h0M287.7 413.5h0M286.1 420.7h0M305.6 418.5h0M294.7 431.7h0M291.6 411.3h0M292.7 431.5h0M285.5 423.4h0M305.9 408.1h0M298 402.6h0M299.3 430.9h0M298.6 403.4h0M285.8 426.1h0M286.1 426.7h0M289.4 430.4h0M305.8 421.6h0M295.9 403h0M287.8 429.6h0M302.1 404.6h0M290.1 411.3h0M285.2 418.7h0M301.8 404.5h0M305.4 413.1h0M285.2 424.9h0M287.5 429.2h0M293.2 410.1h0M303.4 405.2h0M289.1 411.3h0M287.4 413.2h0M297.5 402.7h0M296.8 432.1h0M297 403.5h0M284.8 422.1h0M284.9 419.5h0M295.5 433h0M304.9 414.7h0M304 424.4h0M305.2 427.5h0M289.1 412.7h0M305.4 415.6h0M305.9 425.1h0M305.3 423.5h0M283.7 419.1h0M299.7 404.1h0M285.8 415.6h0M286 425h0M285.2 417.8h0M287.7 428.3h0M291 410.8h0M294.7 431.8h0M304.8 427.2h0M290.8 410.5h0M293.5 408.1h0M288.8 429.5h0M305.3 426.2h0M291.4 430.1h0M291.6 409.2h0M302 429.4h0M287.3 427.1h0M287.1 427.5h0M305.3 413.9h0M305.3 413.6h0M304.9 416.4h0M289.5 411.9h0M285 416.6h0M297.3 403.1h0M297.2 430.9h0M304.1 405.5h0M287.2 427.7h0M306.4 419h0M289.3 412h0M306.3 412.6h0M291.8 431.2h0M286 416.6h0M287 424.1h0M305.7 424.8h0M295.7 431.9h0M287.8 413.2h0M304.8 424h0M289 411.1h0M289.1 413h0M285.6 417h0M289 430.1h0M287 414.6h0M305.2 407h0M287.4 428.2h0M301 404.3h0M292.1 431.7h0M293.6 409.9h0" stroke="#d8d8d5" stroke-width="0.9" stroke-linecap="round" fill="none"/>
<path d="M291.4 408.4h0M289 406.6h0M289.9 407.5h0M288.8 408.6h0M290.5 407.6h0M290.4 407.9h0M290.2 408.7h0M292.9 410.8h0M291.2 409h0M291.9 408.8h0M290.2 409.2h0M289.1 407.8h0M292.2 409.3h0M292.8 410.6h0" stroke="#d8d0cc" stroke-width="0.8" stroke-linecap="round" fill="none"/>
<path d="M278 407.3L277.3 408.8L276.7 410.4L275 410.7L273.4 411.3L271.6 411.4L270.4 410.1L269.2 409L269.2 407.3L269.4 405.7L270.4 404.5L271.7 403.4L273.4 403.1L275.2 403.4L276.6 404.3L277.2 405.9Z" fill="#c42020"/>
<path d="M278.4 414.5L278.2 416L277.1 417.3L275.4 417.7L273.8 418.2L272.2 417.6L270.3 417.4L269.5 416L269.5 414.5L269.5 413.1L270.7 412L272 411L273.8 410.6L275.6 410.8L277.3 411.6L278.1 413Z" fill="#c42020"/>
<path d="M269.9 410L277.4 410L276.9 412L270.4 412Z" fill="#c42020"/>
<path d="M274.2 410.9h0M271.5 404.9h0M276.2 406.9h0M274.8 406.9h0M272.7 414.4h0M275.9 413.4h0M275.3 406.3h0M272.9 413.8h0M271.9 406.6h0M273.8 406.6h0M272.3 406.5h0M271.9 405.8h0M273.3 408.7h0M271.4 406.7h0" stroke="#e89090" stroke-width="1.0" stroke-linecap="round" fill="none"/>
<path d="M280.4 405.1h0M278.7 405.3h0M281.3 403.8h0M278.8 405h0M281.1 403.8h0M282.1 403h0M279.1 404.8h0" stroke="#c42020" stroke-width="0.9" stroke-linecap="round" fill="none"/>
<path d="M288.7 428.9h0M287 425.3h0M301.6 427.4h0M294.3 415.3h0M292.7 422.1h0M295.5 423.7h0M294.5 427.6h0M298 411h0M294.2 409.9h0M293.8 415.7h0M298.1 406.2h0M299.5 407.1h0M291.1 412.3h0M299.8 430.2h0M297.8 419.1h0M294.7 419.1h0M297.7 426.2h0M298.1 409.1h0M297.1 407.9h0M303.5 425.1h0M293.2 412.6h0M304.1 415.8h0M283.3 403.4h0M285.6 396.5h0M284 401.7h0M284.4 399.2h0M285.8 406.7h0M286.7 400.4h0M287.2 415.1h0M285.7 422h0M285.4 415.9h0M286.1 420.8h0M284.6 420.9h0M284.8 420.8h0M284.7 422.6h0M286.7 415.1h0M286.2 421.5h0M284.2 422h0" stroke="#cc4a40" stroke-width="0.8" stroke-linecap="round" fill="none"/>
<line x1="355.5" y1="376.6" x2="355.5" y2="434" stroke="#000" stroke-width="1.0"/>
<line x1="355" y1="433.5" x2="408.8" y2="433.5" stroke="#000" stroke-width="1.0"/>
<line x1="353.3" y1="433.6" x2="355.9" y2="433.6" stroke="#000" stroke-width="1.0"/>
<text x="349.1" y="435.9" font-size="6.4" text-anchor="end">0</text>
<line x1="353.3" y1="422.8" x2="355.9" y2="422.8" stroke="#000" stroke-width="1.0"/>
<text x="349.1" y="425.1" font-size="6.4" text-anchor="end">50</text>
<line x1="353.3" y1="411.9" x2="355.9" y2="411.9" stroke="#000" stroke-width="1.0"/>
<text x="349.1" y="414.2" font-size="6.4" text-anchor="end">100</text>
<line x1="353.3" y1="401.1" x2="355.9" y2="401.1" stroke="#000" stroke-width="1.0"/>
<text x="349.1" y="403.4" font-size="6.4" text-anchor="end">150</text>
<line x1="353.3" y1="390.3" x2="355.9" y2="390.3" stroke="#000" stroke-width="1.0"/>
<text x="349.1" y="392.6" font-size="6.4" text-anchor="end">200</text>
<line x1="353.3" y1="379.5" x2="355.9" y2="379.5" stroke="#000" stroke-width="1.0"/>
<text x="349.1" y="381.8" font-size="6.4" text-anchor="end">250</text>
<line x1="361.2" y1="433.6" x2="361.2" y2="436.6" stroke="#000" stroke-width="1.0"/>
<text x="365.1" y="444.4" font-size="7.3" text-anchor="end" textLength="35.4" lengthAdjust="spacingAndGlyphs" transform="rotate(-45 365.1 444.4)">LYL1/LMO2</text>
<line x1="369.5" y1="433.6" x2="369.5" y2="436.6" stroke="#000" stroke-width="1.0"/>
<text x="373.4" y="444.4" font-size="7.3" text-anchor="end" textLength="18.6" lengthAdjust="spacingAndGlyphs" transform="rotate(-45 373.4 444.4)">HOXA</text>
<line x1="378.1" y1="433.6" x2="378.1" y2="436.6" stroke="#000" stroke-width="1.0"/>
<text x="382" y="444.4" font-size="7.3" text-anchor="end" textLength="33.4" lengthAdjust="spacingAndGlyphs" transform="rotate(-45 382 444.4)">TLX1/TLX3</text>
<line x1="386.6" y1="433.6" x2="386.6" y2="436.6" stroke="#000" stroke-width="1.0"/>
<text x="390.5" y="444.4" font-size="7.3" text-anchor="end" textLength="19.8" lengthAdjust="spacingAndGlyphs" transform="rotate(-45 390.5 444.4)">NKXK2</text>
<line x1="395.4" y1="433.6" x2="395.4" y2="436.6" stroke="#000" stroke-width="1.0"/>
<text x="399.3" y="444.4" font-size="7.3" text-anchor="end" textLength="31" lengthAdjust="spacingAndGlyphs" transform="rotate(-45 399.3 444.4)">TAL1/TAL2</text>
<line x1="404.1" y1="433.6" x2="404.1" y2="436.6" stroke="#000" stroke-width="1.0"/>
<text x="408" y="444.4" font-size="7.3" text-anchor="end" textLength="35.2" lengthAdjust="spacingAndGlyphs" transform="rotate(-45 408 444.4)">UNKNOWN</text>
<text x="370.4" y="363.8" font-size="8.8" class="n" font-style="italic" fill="#222" textLength="27.2" lengthAdjust="spacingAndGlyphs">c-MYB</text>
<text x="382.4" y="479.6" font-size="8.6" class="m" text-anchor="middle" textLength="21.5" lengthAdjust="spacingAndGlyphs">Subtype</text>
<text x="333" y="411.8" font-size="7.0" font-weight="bold" textLength="16.2" lengthAdjust="spacingAndGlyphs" transform="rotate(-90 333 411.8)">FPKM</text>
<path d="M361.6 412L361.8 413L361.8 417.5L362.6 419.5L363.5 422L363.5 426.4L362.5 428L361 428.6L361 428.6L359.5 428L358.5 426.4L358.5 422L359.4 419.5L360.2 417.5L360.2 413L360.4 412Z" fill="#fff" stroke="#c42c55" stroke-width="0.95" stroke-linejoin="round"/>
<line x1="359.7" y1="422.3" x2="362.3" y2="422.3" stroke="#aaa" stroke-width="0.5"/>
<circle cx="361" cy="422.3" r="0.45" fill="#555"/>
<line x1="359.7" y1="424.6" x2="362.3" y2="424.6" stroke="#aaa" stroke-width="0.5"/>
<circle cx="361" cy="424.6" r="0.45" fill="#555"/>
<path d="M369.2 396.6L370.3 397L370.5 398.5L370.3 401L370.3 408.7L371 411L371.7 413L371.7 422L370.7 425L369.2 427.5L369.2 427.5L367.7 425L366.7 422L366.7 413L367.4 411L368.1 408.7L368.1 401L367.9 398.5L368.1 397L369.2 396.6Z" fill="#fff" stroke="#c42c55" stroke-width="0.95" stroke-linejoin="round"/>
<line x1="367.9" y1="406" x2="370.5" y2="406" stroke="#aaa" stroke-width="0.5"/>
<circle cx="369.2" cy="406" r="0.45" fill="#555"/>
<line x1="367.9" y1="414.6" x2="370.5" y2="414.6" stroke="#aaa" stroke-width="0.5"/>
<circle cx="369.2" cy="414.6" r="0.45" fill="#555"/>
<line x1="367.9" y1="420.2" x2="370.5" y2="420.2" stroke="#aaa" stroke-width="0.5"/>
<circle cx="369.2" cy="420.2" r="0.45" fill="#555"/>
<path d="M378.6 402.6L378.9 404L378.9 412L379.7 414L380.3 415.3L380.3 424.2L379.3 426L378.8 428L378.1 431.3L378.1 431.3L377.4 428L376.9 426L375.9 424.2L375.9 415.3L376.5 414L377.3 412L377.3 404L377.6 402.6Z" fill="#fff" stroke="#c42c55" stroke-width="0.95" stroke-linejoin="round"/>
<line x1="376.8" y1="416.3" x2="379.4" y2="416.3" stroke="#aaa" stroke-width="0.5"/>
<circle cx="378.1" cy="416.3" r="0.45" fill="#555"/>
<line x1="376.8" y1="421.5" x2="379.4" y2="421.5" stroke="#aaa" stroke-width="0.5"/>
<circle cx="378.1" cy="421.5" r="0.45" fill="#555"/>
<line x1="376.8" y1="424" x2="379.4" y2="424" stroke="#aaa" stroke-width="0.5"/>
<circle cx="378.1" cy="424" r="0.45" fill="#555"/>
<path d="M386.8 394.3L386.8 419.7L388.3 421.5L388.9 423.5L388.5 425.7L386.7 426.4L386.7 426.4L384.9 425.7L384.5 423.5L385.1 421.5L386.6 419.7L386.6 394.3Z" fill="#fff" stroke="#c42c55" stroke-width="0.95" stroke-linejoin="round"/>
<line x1="385.4" y1="423.3" x2="388" y2="423.3" stroke="#aaa" stroke-width="0.5"/>
<circle cx="386.7" cy="423.3" r="0.45" fill="#555"/>
<path d="M394.7 385L395.3 406.5L396.1 409.8L396.8 413L397.1 416.4L397.1 424.2L396.1 427L394.6 429.1L394.6 429.1L393.1 427L392.1 424.2L392.1 416.4L392.4 413L393.1 409.8L393.9 406.5L394.5 385Z" fill="#fff" stroke="#c42c55" stroke-width="0.95" stroke-linejoin="round"/>
<line x1="393.3" y1="413.5" x2="395.9" y2="413.5" stroke="#aaa" stroke-width="0.5"/>
<circle cx="394.6" cy="413.5" r="0.45" fill="#555"/>
<line x1="393.3" y1="418.5" x2="395.9" y2="418.5" stroke="#aaa" stroke-width="0.5"/>
<circle cx="394.6" cy="418.5" r="0.45" fill="#555"/>
<line x1="393.3" y1="421.5" x2="395.9" y2="421.5" stroke="#aaa" stroke-width="0.5"/>
<circle cx="394.6" cy="421.5" r="0.45" fill="#555"/>
<path d="M403.6 399.9L404.2 412L405.1 415L406 418.6L406 426.4L404.8 428L403.5 428.6L403.5 428.6L402.2 428L401 426.4L401 418.6L401.9 415L402.8 412L403.4 399.9Z" fill="#fff" stroke="#c42c55" stroke-width="0.95" stroke-linejoin="round"/>
<line x1="402.2" y1="420" x2="404.8" y2="420" stroke="#aaa" stroke-width="0.5"/>
<circle cx="403.5" cy="420" r="0.45" fill="#555"/>
<line x1="402.2" y1="422.5" x2="404.8" y2="422.5" stroke="#aaa" stroke-width="0.5"/>
<circle cx="403.5" cy="422.5" r="0.45" fill="#555"/>
<line x1="359.5" y1="391.5" x2="369.8" y2="391.5" stroke="#222" stroke-width="1.0"/>
<line x1="359.5" y1="390" x2="359.5" y2="393.3" stroke="#222" stroke-width="1.0"/>
<line x1="369.8" y1="390" x2="369.8" y2="393.3" stroke="#222" stroke-width="1.0"/>
<circle cx="360.8" cy="388.2" r="0.75" fill="#222"/>
<circle cx="363.4" cy="388.2" r="0.75" fill="#222"/>
<circle cx="365.9" cy="388.2" r="0.75" fill="#222"/>
<circle cx="368.5" cy="388.2" r="0.75" fill="#222"/>
<circle cx="386.7" cy="394.3" r="0.8" fill="#c42c55"/>
<circle cx="386.7" cy="408.1" r="0.8" fill="#c42c55"/>
<circle cx="386.7" cy="417.5" r="0.8" fill="#c42c55"/>
<circle cx="361" cy="412.6" r="0.7" fill="#c42c55"/>
<circle cx="403.5" cy="400.5" r="0.7" fill="#c42c55"/>
<circle cx="378.1" cy="403.2" r="0.6" fill="#c42c55"/>
<circle cx="394.6" cy="385.6" r="0.5" fill="#c42c55"/>
<line x1="456.5" y1="375.5" x2="456.5" y2="434" stroke="#000" stroke-width="1.0"/>
<line x1="456" y1="433.5" x2="512.7" y2="433.5" stroke="#000" stroke-width="1.0"/>
<line x1="453.7" y1="433.6" x2="456.3" y2="433.6" stroke="#000" stroke-width="1.0"/>
<text x="449.5" y="435.9" font-size="6.4" text-anchor="end">0</text>
<line x1="453.7" y1="422.3" x2="456.3" y2="422.3" stroke="#000" stroke-width="1.0"/>
<text x="449.5" y="424.6" font-size="6.4" text-anchor="end">20</text>
<line x1="453.7" y1="411" x2="456.3" y2="411" stroke="#000" stroke-width="1.0"/>
<text x="449.5" y="413.3" font-size="6.4" text-anchor="end">40</text>
<line x1="453.7" y1="399.6" x2="456.3" y2="399.6" stroke="#000" stroke-width="1.0"/>
<text x="449.5" y="401.9" font-size="6.4" text-anchor="end">60</text>
<line x1="453.7" y1="388.3" x2="456.3" y2="388.3" stroke="#000" stroke-width="1.0"/>
<text x="449.5" y="390.6" font-size="6.4" text-anchor="end">80</text>
<line x1="453.7" y1="377" x2="456.3" y2="377" stroke="#000" stroke-width="1.0"/>
<text x="449.5" y="379.3" font-size="6.4" text-anchor="end">100</text>
<line x1="461.9" y1="433.6" x2="461.9" y2="436.6" stroke="#000" stroke-width="1.0"/>
<text x="465.8" y="444.4" font-size="7.3" text-anchor="end" textLength="35.4" lengthAdjust="spacingAndGlyphs" transform="rotate(-45 465.8 444.4)">LYL1/LMO2</text>
<line x1="471" y1="433.6" x2="471" y2="436.6" stroke="#000" stroke-width="1.0"/>
<text x="474.9" y="444.4" font-size="7.3" text-anchor="end" textLength="18.6" lengthAdjust="spacingAndGlyphs" transform="rotate(-45 474.9 444.4)">HOXA</text>
<line x1="479.6" y1="433.6" x2="479.6" y2="436.6" stroke="#000" stroke-width="1.0"/>
<text x="483.5" y="444.4" font-size="7.3" text-anchor="end" textLength="33.4" lengthAdjust="spacingAndGlyphs" transform="rotate(-45 483.5 444.4)">TLX1/TLX3</text>
<line x1="488.7" y1="433.6" x2="488.7" y2="436.6" stroke="#000" stroke-width="1.0"/>
<text x="492.6" y="444.4" font-size="7.3" text-anchor="end" textLength="19.8" lengthAdjust="spacingAndGlyphs" transform="rotate(-45 492.6 444.4)">NKXK2</text>
<line x1="497.9" y1="433.6" x2="497.9" y2="436.6" stroke="#000" stroke-width="1.0"/>
<text x="501.8" y="444.4" font-size="7.3" text-anchor="end" textLength="31" lengthAdjust="spacingAndGlyphs" transform="rotate(-45 501.8 444.4)">TAL1/TAL2</text>
<line x1="506.9" y1="433.6" x2="506.9" y2="436.6" stroke="#000" stroke-width="1.0"/>
<text x="510.8" y="444.4" font-size="7.3" text-anchor="end" textLength="35.2" lengthAdjust="spacingAndGlyphs" transform="rotate(-45 510.8 444.4)">UNKNOWN</text>
<text x="471" y="363.8" font-size="8.8" class="n" font-style="italic" fill="#222" textLength="26.7" lengthAdjust="spacingAndGlyphs">GATA3</text>
<text x="484.2" y="479.6" font-size="8.6" class="m" text-anchor="middle" textLength="21.5" lengthAdjust="spacingAndGlyphs">Subtype</text>
<text x="433.2" y="411.8" font-size="7.0" font-weight="bold" textLength="16.2" lengthAdjust="spacingAndGlyphs" transform="rotate(-90 433.2 411.8)">FPKM</text>
<path d="M461.8 416.5L462.2 423.6L463.1 425L463.9 426.4L463.9 431.9L461.7 432.5L461.7 432.5L459.5 431.9L459.5 426.4L460.3 425L461.2 423.6L461.6 416.5Z" fill="#fff" stroke="#c42c55" stroke-width="0.95" stroke-linejoin="round"/>
<line x1="460.4" y1="428.5" x2="463" y2="428.5" stroke="#aaa" stroke-width="0.5"/>
<circle cx="461.7" cy="428.5" r="0.45" fill="#555"/>
<line x1="460.4" y1="430.5" x2="463" y2="430.5" stroke="#aaa" stroke-width="0.5"/>
<circle cx="461.7" cy="430.5" r="0.45" fill="#555"/>
<path d="M470.8 392.2L471.3 409.8L472.1 411.5L472.5 413.1L472.5 416.5L472 418.1L473.5 420.9L473.5 429.7L472.2 431.3L470.7 431.9L470.7 431.9L469.2 431.3L467.9 429.7L467.9 420.9L469.4 418.1L468.9 416.5L468.9 413.1L469.3 411.5L470.1 409.8L470.6 392.2Z" fill="#fff" stroke="#c42c55" stroke-width="0.95" stroke-linejoin="round"/>
<line x1="469.4" y1="424" x2="472" y2="424" stroke="#aaa" stroke-width="0.5"/>
<circle cx="470.7" cy="424" r="0.45" fill="#555"/>
<line x1="469.4" y1="427" x2="472" y2="427" stroke="#aaa" stroke-width="0.5"/>
<circle cx="470.7" cy="427" r="0.45" fill="#555"/>
<path d="M479.5 384.4L479.9 413.1L480.2 423.1L481 425L481.7 426.4L481.7 431.4L479.4 431.9L479.4 431.9L477.1 431.4L477.1 426.4L477.8 425L478.6 423.1L478.9 413.1L479.3 384.4Z" fill="#fff" stroke="#c42c55" stroke-width="0.95" stroke-linejoin="round"/>
<line x1="478.1" y1="429.5" x2="480.7" y2="429.5" stroke="#aaa" stroke-width="0.5"/>
<circle cx="479.4" cy="429.5" r="0.45" fill="#555"/>
<path d="M489.1 419.8L490.2 421.5L490.9 422.5L490.9 429.7L489.8 431L488.6 431.4L488.6 431.4L487.4 431L486.3 429.7L486.3 422.5L487 421.5L488.1 419.8Z" fill="#fff" stroke="#c42c55" stroke-width="0.95" stroke-linejoin="round"/>
<line x1="487.3" y1="425" x2="489.9" y2="425" stroke="#aaa" stroke-width="0.5"/>
<circle cx="488.6" cy="425" r="0.45" fill="#555"/>
<line x1="487.3" y1="428" x2="489.9" y2="428" stroke="#aaa" stroke-width="0.5"/>
<circle cx="488.6" cy="428" r="0.45" fill="#555"/>
<path d="M497.9 411.5L498.3 420.9L499.2 423L500.1 425.3L500.1 430.3L497.8 431.4L497.8 431.4L495.5 430.3L495.5 425.3L496.4 423L497.3 420.9L497.7 411.5Z" fill="#fff" stroke="#c42c55" stroke-width="0.95" stroke-linejoin="round"/>
<line x1="496.5" y1="428.3" x2="499.1" y2="428.3" stroke="#aaa" stroke-width="0.5"/>
<circle cx="497.8" cy="428.3" r="0.45" fill="#555"/>
<path d="M506.7 394.4L507.1 407.6L507.6 413.1L508.2 416L508.9 418.7L508.9 423.1L508.2 424.2L509.1 426.4L509.1 430.8L506.6 432.5L506.6 432.5L504.1 430.8L504.1 426.4L505 424.2L504.3 423.1L504.3 418.7L505 416L505.6 413.1L506.1 407.6L506.5 394.4Z" fill="#fff" stroke="#c42c55" stroke-width="0.95" stroke-linejoin="round"/>
<line x1="505.3" y1="421" x2="507.9" y2="421" stroke="#aaa" stroke-width="0.5"/>
<circle cx="506.6" cy="421" r="0.45" fill="#555"/>
<line x1="505.3" y1="430" x2="507.9" y2="430" stroke="#aaa" stroke-width="0.5"/>
<circle cx="506.6" cy="430" r="0.45" fill="#555"/>
<line x1="460.4" y1="388.2" x2="470.9" y2="388.2" stroke="#222" stroke-width="1.0"/>
<line x1="460.4" y1="386.7" x2="460.4" y2="390" stroke="#222" stroke-width="1.0"/>
<line x1="470.9" y1="386.7" x2="470.9" y2="390" stroke="#222" stroke-width="1.0"/>
<circle cx="464.4" cy="384.9" r="0.75" fill="#222"/>
<circle cx="466.9" cy="384.9" r="0.75" fill="#222"/>
<circle cx="488.6" cy="418.1" r="1.0" fill="#fff" stroke="#c42c55" stroke-width="0.8"/>
<circle cx="470.7" cy="392.6" r="0.6" fill="#c42c55"/>
<circle cx="506.6" cy="394.8" r="0.6" fill="#c42c55"/>
<circle cx="506.6" cy="405" r="0.5" fill="#c42c55"/>
<circle cx="461.7" cy="417" r="0.6" fill="#c42c55"/>
<circle cx="470.7" cy="410.2" r="0.6" fill="#c42c55"/>
<circle cx="479.4" cy="413.5" r="0.5" fill="#c42c55"/>
<path d="M0 0H520V489H0Z M1.1 1.2V487.4H518.7V1.2Z" fill="#000" fill-rule="evenodd"/>
</svg>
</body></html>
